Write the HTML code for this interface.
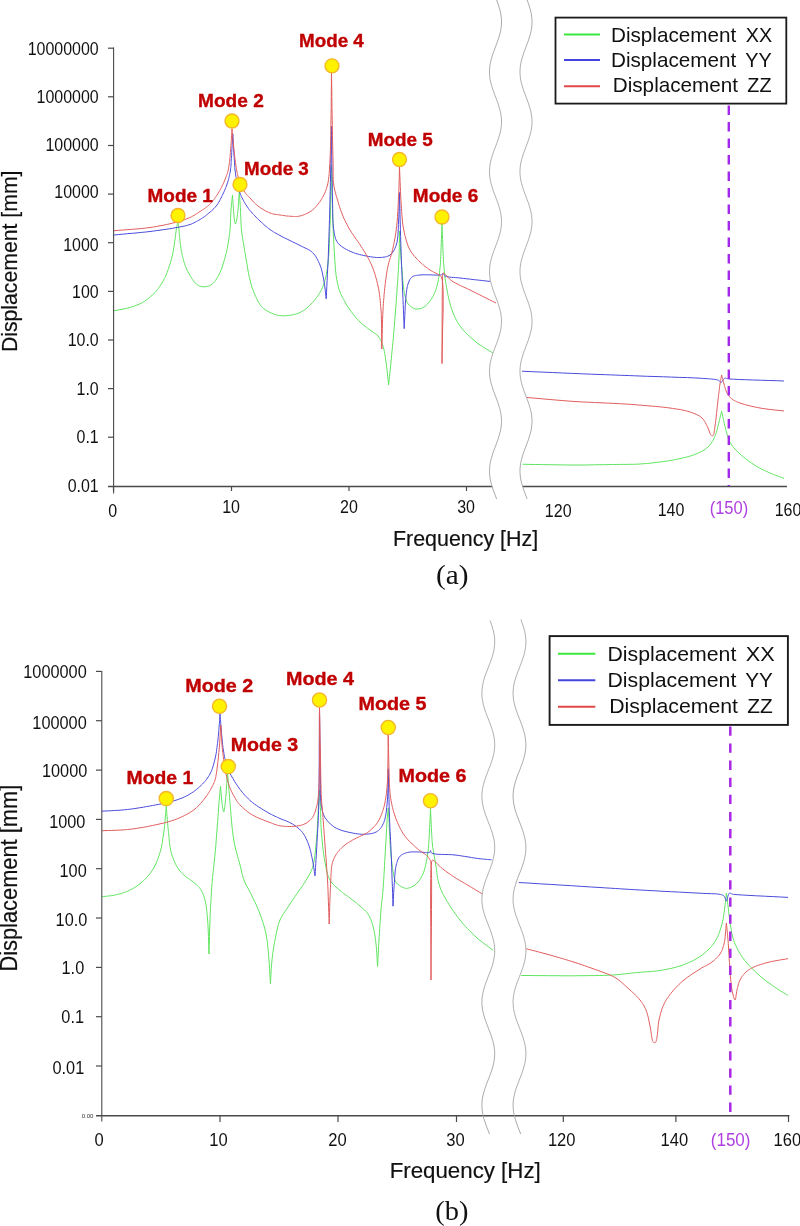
<!DOCTYPE html>
<html><head><meta charset="utf-8"><title>FRF</title>
<style>html,body{margin:0;padding:0;background:#fff}body{width:800px;height:1226px;overflow:hidden;font-family:"Liberation Sans",sans-serif}svg{display:block;filter:blur(0.4px)}</style></head>
<body>
<svg width="800" height="1226" viewBox="0 0 800 1226">
<rect width="800" height="1226" fill="#fff"/>
<g opacity="0.999">
<path d="M114.0 310.7L115.0 310.5L116.0 310.4L117.0 310.2L118.0 310.0L119.0 309.9L120.0 309.7L121.0 309.5L122.0 309.3L123.0 309.1L124.0 308.9L124.9 308.7L125.9 308.5L126.9 308.3L127.9 308.1L128.9 307.8L130.0 307.5L131.4 307.0L133.0 306.6L134.5 306.0L136.2 305.4L137.8 304.8L139.4 304.1L141.0 303.3L142.5 302.5L144.2 301.5L145.9 300.3L147.6 299.1L149.2 297.7L150.8 296.4L152.4 295.0L153.8 293.7L155.0 292.5L155.8 291.7L156.5 290.9L157.1 290.1L157.7 289.3L158.3 288.5L158.9 287.7L159.4 286.9L160.0 286.0L160.7 285.0L161.3 284.0L162.0 283.0L162.6 281.9L163.2 280.8L163.8 279.7L164.4 278.6L165.0 277.5L165.6 276.3L166.1 275.0L166.6 273.7L167.1 272.4L167.6 271.1L168.1 269.7L168.5 268.4L169.0 267.0L169.5 265.5L170.0 264.1L170.4 262.6L170.9 261.1L171.3 259.6L171.7 258.0L172.1 256.5L172.5 255.0L172.8 253.5L173.1 252.0L173.4 250.5L173.6 249.0L173.8 247.5L174.1 246.0L174.3 244.5L174.5 243.0L174.7 241.4L175.0 239.7L175.2 238.0L175.4 236.4L175.6 234.7L175.8 233.1L176.0 231.5L176.2 230.0L176.5 228.8L176.7 227.7L176.9 226.7L177.1 225.6L177.3 224.6L177.6 223.6L177.8 222.5L178.0 221.5L178.0 221.5L178.2 222.8L178.3 224.1L178.5 225.4L178.6 226.7L178.8 228.0L178.9 229.4L179.1 230.7L179.2 232.0L179.3 233.4L179.4 234.7L179.6 236.1L179.7 237.5L179.8 238.9L179.9 240.2L180.0 241.6L180.2 243.0L180.4 244.4L180.6 245.8L180.8 247.1L181.0 248.5L181.2 249.9L181.4 251.3L181.7 252.6L182.0 254.0L182.3 255.4L182.6 256.8L183.0 258.2L183.3 259.5L183.7 260.9L184.1 262.3L184.5 263.7L185.0 265.0L185.5 266.3L186.1 267.7L186.6 269.0L187.2 270.4L187.9 271.7L188.5 273.0L189.3 274.2L190.0 275.5L190.8 276.8L191.7 278.2L192.5 279.5L193.5 280.8L194.4 282.1L195.4 283.2L196.4 284.2L197.5 285.0L198.4 285.5L199.3 285.9L200.2 286.2L201.2 286.5L202.1 286.7L203.1 286.8L204.1 286.8L205.0 286.8L206.0 286.6L206.9 286.5L207.9 286.2L208.9 285.9L209.8 285.5L210.7 285.0L211.6 284.4L212.5 283.8L213.6 282.8L214.6 281.6L215.6 280.3L216.6 278.8L217.5 277.3L218.4 275.7L219.2 274.1L220.0 272.5L220.8 270.7L221.5 268.9L222.2 267.0L222.8 265.0L223.4 263.1L224.0 261.1L224.5 259.3L225.0 257.5L225.4 256.1L225.7 254.8L226.1 253.6L226.4 252.3L226.7 251.1L226.9 249.8L227.2 248.4L227.5 247.0L227.9 245.1L228.2 243.1L228.6 241.0L228.9 238.9L229.2 236.7L229.5 234.5L229.8 232.2L230.0 230.0L230.2 227.6L230.4 225.1L230.5 222.5L230.6 219.9L230.6 217.4L230.7 214.8L230.8 212.4L231.0 210.0L231.2 208.0L231.3 206.1L231.5 204.2L231.7 202.4L231.9 200.5L232.1 198.7L232.3 196.9L232.5 195.0L232.5 195.0L232.6 196.9L232.7 198.8L232.9 200.7L233.0 202.6L233.1 204.5L233.2 206.4L233.4 208.2L233.5 210.0L233.6 211.5L233.7 213.0L233.9 214.6L234.0 216.0L234.1 217.5L234.3 218.8L234.4 220.0L234.6 221.0L234.7 221.5L234.8 222.0L234.9 222.5L235.0 223.0L235.1 223.4L235.3 223.7L235.4 223.9L235.5 224.0L235.6 223.9L235.7 223.7L235.9 223.4L236.0 223.0L236.1 222.5L236.3 222.0L236.4 221.5L236.5 221.0L236.7 220.0L236.9 218.8L237.1 217.5L237.3 216.1L237.5 214.6L237.7 213.1L237.8 211.6L238.0 210.0L238.2 207.9L238.4 205.7L238.5 203.4L238.7 201.1L238.8 198.6L239.0 196.2L239.1 193.8L239.3 191.5L239.3 191.5L239.5 193.8L239.6 196.1L239.8 198.4L239.9 200.7L240.1 203.0L240.2 205.3L240.4 207.7L240.5 210.0L240.6 212.5L240.7 215.0L240.8 217.6L240.9 220.1L241.0 222.7L241.1 225.2L241.3 227.6L241.5 230.0L241.7 232.0L242.0 233.9L242.2 235.8L242.5 237.6L242.8 239.5L243.1 241.3L243.4 243.1L243.8 245.0L244.0 246.9L244.3 248.7L244.6 250.5L244.9 252.4L245.3 254.2L245.6 256.1L245.9 258.0L246.2 260.0L246.7 262.4L247.1 264.9L247.5 267.4L247.9 270.0L248.4 272.6L248.9 275.2L249.4 277.6L250.0 280.0L250.5 282.0L251.1 284.0L251.6 285.9L252.2 287.8L252.8 289.6L253.5 291.4L254.2 293.2L255.0 295.0L255.8 296.7L256.6 298.4L257.4 300.1L258.3 301.7L259.2 303.3L260.2 304.8L261.3 306.2L262.5 307.5L263.8 308.7L265.3 309.8L266.8 310.8L268.5 311.7L270.1 312.5L271.8 313.3L273.4 313.9L275.0 314.5L276.3 314.9L277.5 315.2L278.7 315.4L279.9 315.6L281.1 315.7L282.4 315.8L283.7 315.8L285.0 315.8L286.8 315.6L288.6 315.5L290.5 315.2L292.5 314.9L294.4 314.4L296.4 313.9L298.2 313.3L300.0 312.5L301.7 311.6L303.4 310.6L305.0 309.4L306.6 308.2L308.2 306.8L309.7 305.4L311.1 304.0L312.5 302.5L313.9 300.9L315.4 299.2L316.7 297.4L318.0 295.5L319.3 293.6L320.4 291.6L321.5 289.6L322.5 287.5L323.4 285.2L324.2 283.0L324.9 280.6L325.5 278.2L326.1 275.8L326.6 273.1L327.0 270.4L327.5 267.5L328.1 263.0L328.5 258.2L328.9 253.1L329.2 247.7L329.4 242.2L329.6 236.5L329.8 230.8L330.0 225.0L330.3 218.0L330.5 210.7L330.7 203.3L330.8 195.6L331.0 188.0L331.2 180.2L331.3 172.6L331.5 165.0L331.5 165.0L331.7 172.6L331.9 180.5L332.0 188.4L332.2 196.3L332.4 204.0L332.6 211.4L332.8 218.5L333.0 225.0L333.2 229.3L333.3 233.3L333.5 237.2L333.7 240.9L333.9 244.5L334.1 248.0L334.3 251.5L334.5 255.0L334.7 258.1L334.9 261.1L335.1 264.1L335.3 267.1L335.5 269.9L335.8 272.7L336.1 275.4L336.5 278.0L336.8 279.9L337.2 281.8L337.6 283.6L338.0 285.4L338.4 287.1L338.9 288.8L339.4 290.4L340.0 292.0L340.5 293.4L341.1 294.7L341.7 296.0L342.4 297.2L343.0 298.4L343.7 299.6L344.3 300.8L345.0 302.0L345.6 303.0L346.2 304.1L346.7 305.0L347.3 306.0L347.9 307.0L348.6 307.9L349.3 309.0L350.0 310.0L351.1 311.4L352.2 312.9L353.4 314.5L354.7 316.1L356.0 317.7L357.3 319.2L358.7 320.6L360.0 322.0L361.2 323.1L362.5 324.2L363.7 325.3L365.0 326.3L366.3 327.2L367.5 328.2L368.8 329.1L370.0 330.0L371.1 330.8L372.1 331.5L373.2 332.2L374.2 332.9L375.3 333.5L376.2 334.3L377.2 335.1L378.0 336.0L378.8 337.0L379.6 338.2L380.2 339.3L380.9 340.6L381.4 341.9L382.0 343.2L382.5 344.6L383.0 346.0L383.5 347.8L384.0 349.6L384.4 351.6L384.8 353.5L385.1 355.6L385.4 357.7L385.7 359.8L386.0 362.0L386.4 364.7L386.7 367.5L387.1 370.3L387.4 373.2L387.7 376.2L388.0 379.2L388.3 382.1L388.6 385.0L388.6 385.0L388.9 382.2L389.2 379.3L389.5 376.5L389.8 373.7L390.1 370.9L390.4 368.0L390.7 365.1L391.0 362.0L391.4 358.3L391.7 354.5L392.1 350.5L392.5 346.6L392.9 342.5L393.3 338.4L393.6 334.2L394.0 330.0L394.4 325.2L394.8 320.2L395.2 315.1L395.6 310.0L396.0 304.9L396.3 299.8L396.7 294.8L397.0 290.0L397.3 285.8L397.6 281.7L397.9 277.6L398.1 273.6L398.4 269.6L398.6 265.7L398.8 261.8L399.0 258.0L399.1 254.5L399.2 251.1L399.3 247.7L399.3 244.4L399.4 241.0L399.4 237.7L399.4 234.4L399.5 231.0L399.5 231.0L399.6 233.4L399.7 235.7L399.9 238.1L400.0 240.5L400.1 242.8L400.2 245.2L400.4 247.6L400.5 250.0L400.7 252.5L400.8 254.9L401.0 257.4L401.2 259.8L401.3 262.3L401.5 264.8L401.8 267.4L402.0 270.0L402.3 273.2L402.6 276.6L402.8 280.1L403.1 283.7L403.5 287.1L403.9 290.4L404.4 293.4L405.0 296.0L405.4 297.4L405.8 298.7L406.2 300.0L406.7 301.1L407.1 302.2L407.7 303.2L408.3 304.1L409.0 305.0L409.7 305.7L410.5 306.4L411.3 307.0L412.2 307.6L413.2 308.1L414.1 308.5L415.1 308.8L416.0 309.0L417.0 309.1L418.0 309.0L419.0 308.9L420.0 308.7L421.1 308.4L422.1 308.0L423.1 307.5L424.0 307.0L425.1 306.2L426.2 305.3L427.3 304.3L428.3 303.1L429.3 301.9L430.3 300.6L431.2 299.3L432.0 298.0L432.8 296.6L433.5 295.3L434.2 293.8L434.9 292.4L435.4 290.8L436.0 289.3L436.5 287.7L437.0 286.0L437.5 284.0L438.0 281.8L438.4 279.7L438.8 277.4L439.1 275.1L439.5 272.8L439.7 270.4L440.0 268.0L440.3 265.3L440.5 262.4L440.6 259.5L440.8 256.6L440.9 253.7L441.0 250.7L441.1 247.8L441.2 245.0L441.3 242.3L441.4 239.7L441.5 237.1L441.6 234.4L441.7 231.8L441.8 229.2L441.9 226.6L442.0 224.0L442.0 224.0L442.1 226.6L442.2 229.2L442.3 231.8L442.4 234.4L442.5 237.1L442.6 239.7L442.7 242.3L442.8 245.0L442.9 247.8L443.0 250.7L443.1 253.6L443.3 256.5L443.4 259.4L443.6 262.3L443.8 265.1L444.0 268.0L444.3 270.8L444.6 273.6L444.9 276.3L445.2 279.1L445.6 281.9L446.1 284.6L446.5 287.3L447.0 290.0L447.5 292.6L448.0 295.2L448.6 297.7L449.1 300.3L449.8 302.8L450.4 305.2L451.2 307.6L452.0 310.0L452.8 312.1L453.6 314.2L454.5 316.3L455.4 318.3L456.4 320.2L457.5 322.2L458.7 324.1L460.0 326.0L461.6 328.1L463.4 330.3L465.4 332.4L467.4 334.4L469.5 336.4L471.7 338.4L473.9 340.2L476.0 342.0L478.0 343.6L480.1 345.0L482.2 346.4L484.4 347.8L486.5 349.1L488.7 350.3L490.9 351.7L493.0 353.0" fill="none" stroke="#5ee45e" stroke-width="1.0" stroke-linejoin="round" stroke-linecap="butt"/>
<path d="M522.5 464.2L529.1 464.4L535.8 464.5L542.6 464.6L549.3 464.7L556.0 464.8L562.5 464.9L568.9 465.0L575.0 465.0L580.0 465.0L585.0 465.0L589.8 464.9L594.5 464.8L599.1 464.7L603.7 464.7L608.1 464.6L612.5 464.5L616.2 464.5L619.8 464.4L623.3 464.4L626.8 464.4L630.2 464.3L633.5 464.3L636.8 464.2L640.0 464.0L642.7 463.8L645.2 463.6L647.7 463.4L650.2 463.2L652.6 462.9L655.1 462.6L657.5 462.3L660.0 462.0L662.5 461.7L665.1 461.3L667.6 460.9L670.2 460.5L672.7 460.1L675.2 459.6L677.6 459.1L680.0 458.6L682.1 458.1L684.2 457.6L686.3 457.1L688.3 456.6L690.3 456.0L692.3 455.4L694.2 454.7L696.0 454.0L697.7 453.3L699.3 452.5L700.9 451.8L702.5 450.9L704.0 450.1L705.4 449.1L706.7 448.1L708.0 447.0L709.1 445.8L710.1 444.6L711.1 443.3L712.0 441.9L712.8 440.5L713.6 439.0L714.3 437.5L715.0 436.0L715.7 434.4L716.3 432.6L716.8 430.9L717.3 429.1L717.7 427.2L718.2 425.4L718.6 423.7L719.0 422.0L719.4 420.6L719.7 419.2L720.0 417.8L720.4 416.4L720.7 415.1L721.0 413.7L721.3 412.4L721.6 411.0L721.6 411.0L721.9 412.4L722.2 413.7L722.5 415.1L722.8 416.5L723.1 417.8L723.4 419.2L723.7 420.6L724.0 422.0L724.3 423.5L724.7 425.0L725.0 426.5L725.4 428.1L725.8 429.6L726.1 431.1L726.6 432.6L727.0 434.0L727.4 435.3L727.8 436.6L728.2 437.9L728.7 439.1L729.2 440.4L729.7 441.6L730.3 442.8L731.0 444.0L731.9 445.3L732.8 446.6L733.9 447.8L735.0 449.1L736.1 450.3L737.4 451.5L738.7 452.8L740.0 454.0L741.7 455.5L743.6 457.1L745.6 458.7L747.7 460.3L749.8 461.8L751.9 463.3L754.0 464.7L756.0 466.0L757.8 467.0L759.5 468.0L761.2 468.9L763.0 469.8L764.7 470.6L766.5 471.4L768.2 472.2L770.0 473.0L771.7 473.7L773.5 474.5L775.2 475.1L777.0 475.8L778.7 476.4L780.5 477.1L782.2 477.7L784.0 478.4" fill="none" stroke="#5ee45e" stroke-width="1.0" stroke-linejoin="round" stroke-linecap="butt"/>
<path d="M114.0 235.0L118.5 234.6L123.2 234.1L127.8 233.7L132.4 233.3L137.0 232.9L141.5 232.4L145.8 232.0L150.0 231.5L153.4 231.1L156.7 230.6L160.0 230.2L163.2 229.7L166.3 229.3L169.3 228.8L172.2 228.3L175.0 227.8L177.1 227.4L179.1 227.1L181.1 226.7L183.0 226.3L184.8 226.0L186.6 225.5L188.3 225.0L190.0 224.5L191.4 224.0L192.7 223.4L194.0 222.8L195.3 222.1L196.5 221.5L197.7 220.8L198.9 220.2L200.0 219.5L200.9 219.0L201.7 218.4L202.5 217.9L203.3 217.4L204.1 216.9L204.9 216.3L205.7 215.7L206.5 215.0L207.7 214.1L208.9 213.0L210.2 212.0L211.5 210.9L212.8 209.7L214.0 208.5L215.2 207.2L216.2 206.0L217.2 204.8L218.0 203.5L218.8 202.2L219.5 200.9L220.2 199.5L220.9 198.2L221.6 196.8L222.2 195.5L222.9 194.2L223.5 192.9L224.1 191.5L224.7 190.2L225.3 188.8L225.8 187.5L226.3 186.2L226.8 185.0L227.1 184.0L227.4 183.1L227.7 182.1L228.0 181.2L228.3 180.3L228.5 179.4L228.8 178.4L229.0 177.5L229.2 176.6L229.4 175.7L229.6 174.7L229.8 173.8L230.0 172.9L230.2 172.0L230.4 171.0L230.5 170.0L230.6 168.8L230.8 167.6L230.9 166.4L231.0 165.2L231.1 163.9L231.1 162.6L231.2 161.3L231.3 160.0L231.4 158.6L231.5 157.1L231.6 155.6L231.7 154.1L231.7 152.6L231.8 151.1L231.9 149.6L232.0 148.0L232.1 146.3L232.2 144.6L232.3 142.8L232.4 141.1L232.5 139.3L232.6 137.5L232.7 135.8L232.8 134.0L232.8 134.0L232.9 136.6L233.1 139.3L233.2 141.9L233.4 144.6L233.5 147.2L233.7 149.8L233.8 152.4L234.0 155.0L234.2 157.5L234.3 160.0L234.5 162.6L234.7 165.1L234.8 167.6L235.0 169.9L235.3 172.1L235.5 174.0L235.7 175.0L235.8 176.0L236.0 176.8L236.2 177.6L236.4 178.4L236.6 179.2L236.8 180.1L237.0 181.0L237.3 182.2L237.5 183.5L237.8 184.9L238.1 186.3L238.4 187.7L238.7 189.1L239.1 190.4L239.5 191.8L240.0 193.0L240.4 194.3L241.0 195.5L241.5 196.7L242.1 197.9L242.7 199.1L243.4 200.3L244.0 201.5L244.7 202.7L245.3 203.8L246.0 204.9L246.8 206.0L247.5 207.2L248.3 208.3L249.1 209.4L250.0 210.5L251.1 211.8L252.3 213.2L253.5 214.5L254.8 215.8L256.1 217.2L257.4 218.5L258.7 219.8L260.0 221.0L261.2 222.1L262.5 223.3L263.7 224.4L264.9 225.5L266.2 226.5L267.4 227.6L268.7 228.6L270.0 229.5L271.2 230.3L272.4 231.1L273.5 231.8L274.7 232.6L276.0 233.3L277.2 234.0L278.6 234.7L280.0 235.5L282.2 236.7L284.6 237.9L287.2 239.2L289.9 240.5L292.5 241.8L295.2 243.1L297.7 244.3L300.0 245.5L301.7 246.4L303.5 247.2L305.1 248.0L306.8 248.7L308.3 249.5L309.8 250.4L311.2 251.4L312.5 252.5L313.7 253.8L314.8 255.2L315.9 256.7L316.8 258.3L317.7 259.9L318.5 261.6L319.3 263.3L320.0 265.0L320.7 266.8L321.3 268.6L321.8 270.4L322.2 272.2L322.6 274.1L323.0 276.1L323.4 278.0L323.8 280.0L324.1 282.2L324.5 284.5L324.8 286.9L325.1 289.2L325.4 291.6L325.7 294.0L325.9 296.4L326.2 298.8L326.2 298.8L326.5 292.7L326.8 286.6L327.1 280.5L327.4 274.4L327.7 268.3L328.0 262.2L328.3 256.1L328.5 250.0L328.7 243.8L328.9 237.8L329.1 231.7L329.3 225.7L329.5 219.5L329.7 213.2L329.8 206.7L330.0 200.0L330.2 191.4L330.4 182.5L330.6 173.3L330.8 163.9L331.0 154.4L331.1 144.8L331.3 135.3L331.5 126.0L331.5 126.0L331.6 135.5L331.7 145.3L331.8 155.2L331.9 165.1L332.0 174.7L332.2 183.8L332.3 192.3L332.5 200.0L332.6 204.5L332.7 208.7L332.7 212.8L332.8 216.7L332.9 220.3L333.1 223.7L333.3 227.0L333.8 230.0L334.1 231.9L334.3 233.6L334.7 235.3L335.0 236.9L335.4 238.4L336.0 239.8L336.7 241.2L337.5 242.5L338.6 243.9L340.0 245.1L341.4 246.3L343.1 247.5L344.8 248.5L346.5 249.5L348.3 250.4L350.0 251.2L351.8 252.0L353.6 252.7L355.4 253.4L357.3 253.9L359.3 254.5L361.2 254.9L363.1 255.3L365.0 255.8L366.9 256.1L368.8 256.5L370.7 256.8L372.7 257.1L374.6 257.3L376.5 257.5L378.3 257.5L380.0 257.5L381.4 257.4L382.7 257.3L384.1 257.1L385.4 256.9L386.6 256.6L387.8 256.2L389.0 255.7L390.0 255.0L391.0 254.2L392.0 253.2L392.8 252.1L393.6 250.9L394.4 249.5L395.1 248.1L395.7 246.6L396.2 245.0L397.0 242.3L397.5 239.1L397.9 235.7L398.1 232.1L398.3 228.4L398.4 224.6L398.6 221.0L398.8 217.5L398.9 214.3L399.0 211.2L399.1 208.0L399.2 204.9L399.3 201.8L399.3 198.7L399.4 195.6L399.5 192.5L399.5 192.5L399.7 199.8L399.9 207.1L400.0 214.5L400.2 221.9L400.4 229.2L400.6 236.4L400.8 243.3L401.0 250.0L401.2 255.4L401.4 260.5L401.6 265.6L401.8 270.5L402.0 275.4L402.2 280.2L402.4 285.1L402.6 290.0L402.8 294.9L403.0 299.7L403.2 304.5L403.4 309.3L403.6 314.2L403.8 319.0L404.0 323.8L404.2 328.6L404.2 328.6L404.4 324.4L404.6 320.1L404.8 315.7L405.0 311.3L405.2 307.0L405.4 303.0L405.7 299.3L406.0 296.0L406.2 294.2L406.4 292.5L406.6 290.9L406.8 289.4L407.0 288.0L407.3 286.6L407.6 285.3L408.0 284.0L408.4 283.0L408.8 282.0L409.2 281.0L409.6 280.0L410.1 279.2L410.7 278.3L411.3 277.6L412.0 277.0L412.8 276.5L413.6 276.1L414.5 275.8L415.5 275.6L416.5 275.4L417.6 275.3L418.8 275.1L420.0 275.0L422.2 274.8L424.8 274.8L427.7 274.8L430.7 274.9L433.6 275.0L436.3 275.1L438.4 275.1L440.0 275.0L440.4 275.0L440.7 274.9L440.9 274.9L441.2 274.8L441.4 274.8L441.6 274.7L441.8 274.6L442.0 274.5L442.2 274.4L442.3 274.2L442.4 274.1L442.5 273.9L442.6 273.7L442.7 273.6L442.9 273.5L443.0 273.5L443.2 273.6L443.4 273.8L443.6 274.1L443.8 274.5L444.0 274.9L444.3 275.3L444.6 275.7L445.0 276.0L446.1 276.5L447.6 276.8L449.3 277.1L451.3 277.3L453.4 277.4L455.5 277.6L457.8 277.8L460.0 278.0L463.3 278.4L466.8 278.8L470.5 279.2L474.4 279.7L478.3 280.1L482.3 280.5L486.2 281.0L490.0 281.4" fill="none" stroke="#4a4adc" stroke-width="1.0" stroke-linejoin="round" stroke-linecap="butt"/>
<path d="M522.0 371.2L531.9 371.7L542.1 372.1L552.4 372.5L562.6 373.0L572.6 373.4L582.3 373.8L591.5 374.2L600.0 374.5L605.6 374.7L610.7 374.9L615.6 375.1L620.3 375.3L625.0 375.4L629.7 375.6L634.7 375.8L640.0 376.0L647.2 376.3L655.0 376.5L663.3 376.8L671.6 377.1L679.8 377.4L687.4 377.6L694.3 377.9L700.0 378.2L702.6 378.4L705.0 378.6L707.3 378.7L709.4 378.9L711.4 379.0L713.1 379.2L714.7 379.4L716.0 379.6L716.5 379.7L716.9 379.8L717.3 379.9L717.7 380.0L718.1 380.1L718.4 380.2L718.7 380.3L719.0 380.5L719.3 380.7L719.6 381.0L719.8 381.4L720.1 381.7L720.3 382.1L720.5 382.4L720.8 382.5L721.0 382.6L721.3 382.5L721.5 382.3L721.8 382.0L722.0 381.6L722.2 381.2L722.5 380.7L722.7 380.3L723.0 380.0L723.2 379.7L723.5 379.4L723.7 379.1L724.0 378.8L724.2 378.5L724.5 378.3L724.7 378.1L725.0 378.0L725.2 378.0L725.5 378.0L725.7 378.1L726.0 378.2L726.2 378.3L726.5 378.4L726.7 378.5L727.0 378.6L727.3 378.7L727.6 378.7L727.9 378.8L728.2 378.8L728.6 378.9L729.0 378.9L729.4 379.0L730.0 379.0L733.6 379.2L738.8 379.5L745.4 379.7L752.8 380.0L760.8 380.2L768.9 380.5L776.8 380.7L784.0 381.0" fill="none" stroke="#4a4adc" stroke-width="1.0" stroke-linejoin="round" stroke-linecap="butt"/>
<path d="M114.0 230.7L118.5 230.3L123.2 230.0L127.8 229.6L132.4 229.3L137.0 228.9L141.5 228.5L145.8 228.0L150.0 227.5L153.4 227.0L156.7 226.4L160.0 225.8L163.2 225.2L166.3 224.6L169.3 223.9L172.2 223.2L175.0 222.5L177.1 221.9L179.1 221.4L181.1 220.8L183.0 220.2L184.8 219.6L186.6 218.9L188.3 218.2L190.0 217.5L191.4 216.8L192.7 216.1L194.0 215.4L195.2 214.6L196.4 213.9L197.6 213.1L198.8 212.3L200.0 211.5L201.1 210.8L202.3 210.0L203.4 209.3L204.5 208.6L205.6 207.8L206.7 207.0L207.7 206.1L208.8 205.2L209.8 204.2L210.8 203.2L211.8 202.1L212.7 200.9L213.7 199.8L214.6 198.6L215.4 197.4L216.2 196.2L217.0 195.1L217.7 194.0L218.4 192.9L219.1 191.8L219.7 190.6L220.3 189.5L220.9 188.4L221.5 187.2L222.0 186.2L222.5 185.2L223.0 184.2L223.5 183.2L224.0 182.1L224.4 181.1L224.8 180.1L225.2 179.0L225.7 177.9L226.1 176.8L226.5 175.7L226.9 174.6L227.3 173.4L227.6 172.3L228.0 171.2L228.2 170.0L228.5 168.8L228.7 167.6L228.9 166.3L229.1 165.0L229.3 163.8L229.4 162.5L229.6 161.3L229.7 160.0L229.8 158.8L230.0 157.5L230.1 156.3L230.2 155.1L230.3 153.8L230.4 152.6L230.5 151.3L230.6 150.0L230.7 148.4L230.8 146.8L231.0 145.1L231.1 143.4L231.2 141.7L231.3 140.1L231.4 138.5L231.5 137.0L231.6 135.9L231.6 134.9L231.7 133.9L231.8 132.9L231.8 131.9L231.9 131.0L231.9 130.0L232.0 129.0L232.0 129.0L232.2 131.6L232.5 134.3L232.7 137.0L233.0 139.7L233.2 142.3L233.5 145.0L233.7 147.5L234.0 150.0L234.2 152.1L234.5 154.2L234.7 156.3L234.9 158.4L235.2 160.4L235.5 162.3L235.7 164.2L236.0 166.0L236.2 167.4L236.4 168.6L236.6 169.9L236.8 171.0L237.1 172.2L237.3 173.4L237.6 174.7L238.0 176.0L238.5 177.8L239.2 179.7L239.9 181.7L240.6 183.7L241.4 185.7L242.3 187.6L243.1 189.4L244.0 191.0L244.7 192.1L245.4 193.0L246.1 193.9L246.8 194.7L247.6 195.5L248.4 196.3L249.2 197.1L250.0 198.0L250.9 199.0L251.8 200.0L252.8 201.1L253.7 202.1L254.7 203.1L255.8 204.1L256.9 205.1L258.0 206.0L259.3 207.0L260.8 208.0L262.3 209.0L263.8 209.9L265.4 210.8L266.9 211.6L268.5 212.4L270.0 213.0L271.3 213.4L272.5 213.8L273.7 214.1L275.0 214.3L276.2 214.5L277.5 214.6L278.7 214.8L280.0 215.0L281.4 215.2L282.7 215.4L284.1 215.6L285.5 215.8L286.9 216.0L288.3 216.1L289.7 216.2L291.0 216.3L292.2 216.4L293.3 216.4L294.4 216.5L295.5 216.5L296.6 216.5L297.7 216.4L298.8 216.2L300.0 216.0L301.5 215.6L303.1 215.1L304.7 214.4L306.4 213.7L308.0 212.9L309.6 212.0L311.1 211.1L312.5 210.0L314.0 208.7L315.4 207.3L316.7 205.8L318.0 204.2L319.3 202.5L320.4 200.9L321.5 199.2L322.5 197.5L323.3 196.0L324.1 194.6L324.8 193.1L325.4 191.6L326.0 190.1L326.5 188.5L327.0 186.8L327.5 185.0L328.1 182.4L328.5 179.5L328.9 176.6L329.2 173.4L329.4 170.2L329.6 166.9L329.8 163.5L330.0 160.0L330.2 155.5L330.4 150.7L330.6 145.8L330.7 140.8L330.8 135.7L330.8 130.5L330.9 125.2L331.0 120.0L331.1 114.3L331.2 108.4L331.2 102.5L331.3 96.5L331.3 90.5L331.4 84.5L331.4 78.5L331.5 72.5L331.5 72.5L331.6 78.5L331.7 84.5L331.8 90.5L331.8 96.5L331.9 102.5L332.0 108.4L332.1 114.3L332.2 120.0L332.3 125.2L332.4 130.5L332.5 135.7L332.6 140.8L332.7 145.8L332.8 150.7L332.9 155.5L333.0 160.0L333.1 163.5L333.1 166.8L333.1 170.1L333.1 173.3L333.1 176.4L333.2 179.4L333.4 182.2L333.8 185.0L334.1 187.1L334.5 189.0L334.9 190.9L335.4 192.8L335.9 194.6L336.4 196.4L337.0 198.2L337.5 200.0L338.1 201.9L338.6 203.8L339.2 205.7L339.8 207.5L340.4 209.4L341.1 211.3L341.8 213.1L342.5 215.0L343.3 216.9L344.1 218.8L345.0 220.6L345.9 222.5L346.9 224.3L347.9 226.2L348.9 228.1L350.0 230.0L351.4 232.3L352.9 234.5L354.5 236.8L356.1 239.2L357.8 241.5L359.5 243.8L361.0 246.2L362.5 248.5L363.8 250.7L365.1 252.8L366.4 255.0L367.6 257.1L368.8 259.3L369.9 261.5L371.0 263.7L372.0 266.0L373.0 268.4L373.8 270.8L374.7 273.2L375.4 275.7L376.1 278.2L376.8 280.8L377.4 283.4L378.0 286.0L378.6 288.8L379.1 291.7L379.5 294.6L379.9 297.5L380.2 300.5L380.5 303.5L380.7 306.7L381.0 310.0L381.3 314.4L381.4 319.1L381.5 323.9L381.6 328.9L381.6 334.0L381.7 339.0L381.7 344.1L381.8 349.0L381.8 349.0L381.9 344.1L382.1 339.0L382.2 334.0L382.3 328.9L382.4 323.9L382.6 319.1L382.8 314.4L383.0 310.0L383.2 306.7L383.4 303.5L383.6 300.5L383.9 297.5L384.1 294.6L384.4 291.7L384.7 288.9L385.0 286.0L385.3 283.4L385.6 280.8L386.0 278.2L386.3 275.6L386.7 273.1L387.1 270.7L387.5 268.3L388.0 266.0L388.4 264.1L388.9 262.4L389.4 260.7L389.9 259.0L390.5 257.4L391.0 255.7L391.5 253.9L392.0 252.0L392.6 249.5L393.2 247.0L393.7 244.4L394.3 241.7L394.8 238.9L395.3 236.0L395.8 233.1L396.2 230.0L396.7 225.7L397.2 221.2L397.5 216.4L397.8 211.4L398.1 206.5L398.3 201.6L398.5 196.9L398.8 192.5L398.9 189.1L399.0 185.8L399.1 182.6L399.2 179.4L399.3 176.3L399.3 173.3L399.4 170.2L399.5 167.0L399.5 167.0L399.7 171.8L399.9 176.7L400.1 181.6L400.3 186.5L400.5 191.3L400.7 196.1L401.0 200.6L401.2 205.0L401.5 208.4L401.7 211.7L401.9 214.9L402.2 218.0L402.4 221.1L402.8 224.1L403.2 227.1L403.8 230.0L404.3 232.7L404.9 235.3L405.6 238.0L406.3 240.6L407.1 243.1L407.9 245.5L408.9 247.8L410.0 250.0L411.0 251.8L412.2 253.4L413.4 255.0L414.7 256.5L416.0 258.0L417.3 259.3L418.7 260.7L420.0 262.0L421.2 263.1L422.4 264.3L423.7 265.3L424.9 266.3L426.2 267.3L427.5 268.2L428.7 269.1L430.0 270.0L431.2 270.7L432.4 271.4L433.6 272.1L434.9 272.7L436.0 273.3L437.2 273.9L438.2 274.5L439.0 275.0L439.4 275.2L439.8 275.4L440.1 275.6L440.4 275.7L440.7 275.9L441.0 276.2L441.2 276.5L441.5 277.0L442.6 281.7L443.1 289.7L443.2 300.1L443.1 312.3L442.7 325.5L442.4 339.0L442.1 351.9L442.0 363.6L442.0 363.6L442.1 352.0L442.1 339.3L442.1 326.2L442.2 313.3L442.2 301.3L442.3 290.8L442.4 282.5L442.6 277.0L442.6 276.2L442.6 275.5L442.6 274.8L442.6 274.3L442.6 273.8L442.7 273.4L442.8 273.2L443.0 273.0L443.6 273.1L444.4 273.7L445.4 274.7L446.6 275.9L447.8 277.2L449.2 278.6L450.6 279.9L452.0 281.0L453.9 282.2L455.9 283.3L458.1 284.4L460.3 285.5L462.7 286.6L465.1 287.7L467.5 288.8L470.0 290.0L473.0 291.5L476.2 293.1L479.4 294.7L482.7 296.4L486.0 298.0L489.4 299.7L492.7 301.4L496.0 303.0" fill="none" stroke="#e05c5c" stroke-width="1.0" stroke-linejoin="round" stroke-linecap="butt"/>
<path d="M527.0 397.5L533.0 398.0L539.0 398.5L545.0 399.1L550.9 399.6L556.9 400.1L562.9 400.6L569.0 401.1L575.0 401.5L581.3 401.9L587.8 402.2L594.4 402.5L601.0 402.8L607.5 403.1L613.7 403.4L619.6 403.7L625.0 404.0L628.6 404.2L631.9 404.5L635.1 404.7L638.2 405.0L641.2 405.2L644.1 405.5L647.1 405.7L650.0 406.0L652.6 406.2L655.2 406.4L657.7 406.6L660.1 406.9L662.6 407.1L665.1 407.4L667.5 407.7L670.0 408.0L672.5 408.4L675.1 408.8L677.8 409.2L680.4 409.6L682.9 410.1L685.4 410.7L687.8 411.3L690.0 412.0L691.7 412.6L693.4 413.2L695.0 413.9L696.6 414.5L698.1 415.3L699.5 416.1L700.8 417.0L702.0 418.0L703.0 419.1L703.9 420.2L704.7 421.5L705.5 422.8L706.2 424.2L706.8 425.5L707.4 426.8L708.0 428.0L708.4 429.0L708.8 430.0L709.2 431.0L709.5 432.0L709.9 433.0L710.2 433.8L710.6 434.5L711.0 435.0L711.2 435.2L711.5 435.4L711.8 435.5L712.0 435.6L712.3 435.7L712.5 435.7L712.8 435.7L713.0 435.6L713.4 435.1L713.7 434.4L714.0 433.3L714.2 432.0L714.4 430.6L714.6 429.1L714.8 427.5L715.0 426.0L715.4 423.3L715.8 420.3L716.2 416.9L716.6 413.4L716.9 409.9L717.3 406.4L717.7 403.0L718.0 400.0L718.3 397.8L718.5 395.6L718.8 393.5L719.0 391.5L719.3 389.5L719.5 387.6L719.7 385.8L720.0 384.0L720.2 382.7L720.4 381.6L720.6 380.4L720.8 379.3L721.0 378.3L721.2 377.2L721.4 376.1L721.6 375.0L721.6 375.0L721.9 376.1L722.2 377.3L722.5 378.4L722.8 379.5L723.1 380.6L723.4 381.8L723.7 382.9L724.0 384.0L724.3 385.1L724.6 386.3L725.0 387.5L725.3 388.7L725.7 389.8L726.1 390.9L726.5 392.0L727.0 393.0L727.5 393.9L728.0 394.7L728.6 395.5L729.2 396.3L729.9 397.0L730.5 397.7L731.2 398.4L732.0 399.0L732.8 399.6L733.7 400.2L734.6 400.7L735.6 401.2L736.6 401.7L737.6 402.1L738.8 402.5L740.0 403.0L742.0 403.7L744.3 404.4L746.7 405.1L749.3 405.7L751.9 406.3L754.6 406.9L757.3 407.5L760.0 408.0L762.9 408.5L765.8 408.9L768.8 409.3L771.8 409.7L774.9 410.0L777.9 410.3L781.0 410.6L784.0 411.0" fill="none" stroke="#e05c5c" stroke-width="1.0" stroke-linejoin="round" stroke-linecap="butt"/>
<line x1="113.6" y1="47.6" x2="113.6" y2="493.5" stroke="#4a4a4a" stroke-width="1.1"/>
<line x1="108" y1="486.5" x2="787" y2="486.5" stroke="#4a4a4a" stroke-width="1.6"/>
<line x1="108" y1="48.2" x2="114" y2="48.2" stroke="#4a4a4a" stroke-width="1.2"/>
<text transform="translate(27.68,55.10) scale(0.9070,1)" font-size="17.6" fill="#111" font-weight="normal" font-family="Liberation Sans, sans-serif">10000000</text>
<line x1="108" y1="96.8" x2="114" y2="96.8" stroke="#4a4a4a" stroke-width="1.2"/>
<text transform="translate(36.55,103.43) scale(0.9070,1)" font-size="17.6" fill="#111" font-weight="normal" font-family="Liberation Sans, sans-serif">1000000</text>
<line x1="108" y1="145.5" x2="114" y2="145.5" stroke="#4a4a4a" stroke-width="1.2"/>
<text transform="translate(45.43,151.06) scale(0.9070,1)" font-size="17.6" fill="#111" font-weight="normal" font-family="Liberation Sans, sans-serif">100000</text>
<line x1="108" y1="194.1" x2="114" y2="194.1" stroke="#4a4a4a" stroke-width="1.2"/>
<text transform="translate(54.31,198.29) scale(0.9070,1)" font-size="17.6" fill="#111" font-weight="normal" font-family="Liberation Sans, sans-serif">10000</text>
<line x1="108" y1="242.7" x2="114" y2="242.7" stroke="#4a4a4a" stroke-width="1.2"/>
<text transform="translate(63.19,251.22) scale(0.9070,1)" font-size="17.6" fill="#111" font-weight="normal" font-family="Liberation Sans, sans-serif">1000</text>
<line x1="108" y1="291.4" x2="114" y2="291.4" stroke="#4a4a4a" stroke-width="1.2"/>
<text transform="translate(72.07,298.25) scale(0.9070,1)" font-size="17.6" fill="#111" font-weight="normal" font-family="Liberation Sans, sans-serif">100</text>
<line x1="108" y1="340.0" x2="114" y2="340.0" stroke="#4a4a4a" stroke-width="1.2"/>
<text transform="translate(67.63,346.18) scale(0.9070,1)" font-size="17.6" fill="#111" font-weight="normal" font-family="Liberation Sans, sans-serif">10.0</text>
<line x1="108" y1="388.6" x2="114" y2="388.6" stroke="#4a4a4a" stroke-width="1.2"/>
<text transform="translate(76.51,394.51) scale(0.9070,1)" font-size="17.6" fill="#111" font-weight="normal" font-family="Liberation Sans, sans-serif">1.0</text>
<line x1="108" y1="437.2" x2="114" y2="437.2" stroke="#4a4a4a" stroke-width="1.2"/>
<text transform="translate(76.51,443.34) scale(0.9070,1)" font-size="17.6" fill="#111" font-weight="normal" font-family="Liberation Sans, sans-serif">0.1</text>
<text transform="translate(67.63,491.77) scale(0.9070,1)" font-size="17.6" fill="#111" font-weight="normal" font-family="Liberation Sans, sans-serif">0.01</text>
<line x1="113.5" y1="486.5" x2="113.5" y2="491" stroke="#4a4a4a" stroke-width="1.2"/>
<line x1="231.5" y1="486.5" x2="231.5" y2="491" stroke="#4a4a4a" stroke-width="1.2"/>
<line x1="349" y1="486.5" x2="349" y2="491" stroke="#4a4a4a" stroke-width="1.2"/>
<line x1="466.5" y1="486.5" x2="466.5" y2="491" stroke="#4a4a4a" stroke-width="1.2"/>
<text transform="translate(108.35,516.60) scale(0.9100,1)" font-size="17.6" fill="#111" font-weight="normal" font-family="Liberation Sans, sans-serif">0</text>
<text transform="translate(222.22,513.10) scale(0.9100,1)" font-size="17.6" fill="#111" font-weight="normal" font-family="Liberation Sans, sans-serif">10</text>
<text transform="translate(339.98,513.10) scale(0.9100,1)" font-size="17.6" fill="#111" font-weight="normal" font-family="Liberation Sans, sans-serif">20</text>
<text transform="translate(457.14,513.10) scale(0.9100,1)" font-size="17.6" fill="#111" font-weight="normal" font-family="Liberation Sans, sans-serif">30</text>
<text transform="translate(544.87,516.60) scale(0.9100,1)" font-size="17.6" fill="#111" font-weight="normal" font-family="Liberation Sans, sans-serif">120</text>
<text transform="translate(657.67,516.20) scale(0.9100,1)" font-size="17.6" fill="#111" font-weight="normal" font-family="Liberation Sans, sans-serif">140</text>
<text transform="translate(774.68,516.20) scale(0.9100,1)" font-size="17.6" fill="#111" font-weight="normal" font-family="Liberation Sans, sans-serif">160</text>
<text transform="translate(709.63,513.70) scale(0.9400,1)" font-size="17.6" fill="#b040e0" font-weight="normal" font-family="Liberation Sans, sans-serif">(150)</text>
<path d="M496.6 0.0L497.4 2.0L498.1 4.0L498.7 6.0L499.3 8.0L499.9 10.0L500.4 12.0L500.8 14.0L501.1 16.0L501.3 18.0L501.5 20.0L501.5 22.0L501.5 24.0L501.3 25.9L501.1 27.9L500.8 29.9L500.4 31.9L499.9 33.9L499.3 35.9L498.7 37.9L498.1 39.9L497.4 41.9L496.6 43.9L495.9 45.9L495.1 47.9L494.4 49.9L493.6 51.9L492.9 53.9L492.3 55.9L491.7 57.9L491.1 59.9L490.6 61.9L490.2 63.9L489.9 65.9L489.7 67.9L489.5 69.9L489.5 71.9L489.5 73.9L489.7 75.8L489.9 77.8L490.2 79.8L490.6 81.8L491.1 83.8L491.7 85.8L492.3 87.8L492.9 89.8L493.6 91.8L494.4 93.8L495.1 95.8L495.9 97.8L496.6 99.8L497.4 101.8L498.1 103.8L498.7 105.8L499.3 107.8L499.9 109.8L500.4 111.8L500.8 113.8L501.1 115.8L501.3 117.8L501.5 119.8L501.5 121.8L501.5 123.8L501.3 125.7L501.1 127.7L500.8 129.7L500.4 131.7L499.9 133.7L499.3 135.7L498.7 137.7L498.1 139.7L497.4 141.7L496.6 143.7L495.9 145.7L495.1 147.7L494.4 149.7L493.6 151.7L492.9 153.7L492.3 155.7L491.7 157.7L491.1 159.7L490.6 161.7L490.2 163.7L489.9 165.7L489.7 167.7L489.5 169.7L489.5 171.7L489.5 173.7L489.7 175.6L489.9 177.6L490.2 179.6L490.6 181.6L491.1 183.6L491.7 185.6L492.3 187.6L492.9 189.6L493.6 191.6L494.4 193.6L495.1 195.6L495.9 197.6L496.6 199.6L497.4 201.6L498.1 203.6L498.7 205.6L499.3 207.6L499.9 209.6L500.4 211.6L500.8 213.6L501.1 215.6L501.3 217.6L501.5 219.6L501.5 221.6L501.5 223.6L501.3 225.5L501.1 227.5L500.8 229.5L500.4 231.5L499.9 233.5L499.3 235.5L498.7 237.5L498.1 239.5L497.4 241.5L496.6 243.5L495.9 245.5L495.1 247.5L494.4 249.5L493.6 251.5L492.9 253.5L492.3 255.5L491.7 257.5L491.1 259.5L490.6 261.5L490.2 263.5L489.9 265.5L489.7 267.5L489.5 269.5L489.5 271.5L489.5 273.5L489.7 275.4L489.9 277.4L490.2 279.4L490.6 281.4L491.1 283.4L491.7 285.4L492.3 287.4L492.9 289.4L493.6 291.4L494.4 293.4L495.1 295.4L495.9 297.4L496.6 299.4L497.4 301.4L498.1 303.4L498.7 305.4L499.3 307.4L499.9 309.4L500.4 311.4L500.8 313.4L501.1 315.4L501.3 317.4L501.5 319.4L501.5 321.4L501.5 323.4L501.3 325.3L501.1 327.3L500.8 329.3L500.4 331.3L499.9 333.3L499.3 335.3L498.7 337.3L498.1 339.3L497.4 341.3L496.6 343.3L495.9 345.3L495.1 347.3L494.4 349.3L493.6 351.3L492.9 353.3L492.3 355.3L491.7 357.3L491.1 359.3L490.6 361.3L490.2 363.3L489.9 365.3L489.7 367.3L489.5 369.3L489.5 371.3L489.5 373.3L489.7 375.2L489.9 377.2L490.2 379.2L490.6 381.2L491.1 383.2L491.7 385.2L492.3 387.2L492.9 389.2L493.6 391.2L494.4 393.2L495.1 395.2L495.9 397.2L496.6 399.2L497.4 401.2L498.1 403.2L498.7 405.2L499.3 407.2L499.9 409.2L500.4 411.2L500.8 413.2L501.1 415.2L501.3 417.2L501.5 419.2L501.5 421.2L501.5 423.2L501.3 425.1L501.1 427.1L500.8 429.1L500.4 431.1L499.9 433.1L499.3 435.1L498.7 437.1L498.1 439.1L497.4 441.1L496.6 443.1L495.9 445.1L495.1 447.1L494.4 449.1L493.6 451.1L492.9 453.1L492.3 455.1L491.7 457.1L491.1 459.1L490.6 461.1L490.2 463.1L489.9 465.1L489.7 467.1L489.5 469.1L489.5 471.1L489.5 473.1L489.7 475.0L489.9 477.0L490.2 479.0L490.6 481.0L491.1 483.0L491.7 485.0L492.3 487.0L492.9 489.0L493.6 491.0L494.4 493.0L495.1 495.0L495.9 497.0L496.6 499.0L527.1 499.0L526.4 497.0L525.6 495.0L524.9 493.0L524.1 491.0L523.4 489.0L522.8 487.0L522.2 485.0L521.6 483.0L521.1 481.0L520.7 479.0L520.4 477.0L520.2 475.0L520.0 473.1L520.0 471.1L520.0 469.1L520.2 467.1L520.4 465.1L520.7 463.1L521.1 461.1L521.6 459.1L522.2 457.1L522.8 455.1L523.4 453.1L524.1 451.1L524.9 449.1L525.6 447.1L526.4 445.1L527.1 443.1L527.9 441.1L528.6 439.1L529.2 437.1L529.8 435.1L530.4 433.1L530.9 431.1L531.3 429.1L531.6 427.1L531.8 425.1L532.0 423.2L532.0 421.2L532.0 419.2L531.8 417.2L531.6 415.2L531.3 413.2L530.9 411.2L530.4 409.2L529.8 407.2L529.2 405.2L528.6 403.2L527.9 401.2L527.1 399.2L526.4 397.2L525.6 395.2L524.9 393.2L524.1 391.2L523.4 389.2L522.8 387.2L522.2 385.2L521.6 383.2L521.1 381.2L520.7 379.2L520.4 377.2L520.2 375.2L520.0 373.3L520.0 371.3L520.0 369.3L520.2 367.3L520.4 365.3L520.7 363.3L521.1 361.3L521.6 359.3L522.2 357.3L522.8 355.3L523.4 353.3L524.1 351.3L524.9 349.3L525.6 347.3L526.4 345.3L527.1 343.3L527.9 341.3L528.6 339.3L529.2 337.3L529.8 335.3L530.4 333.3L530.9 331.3L531.3 329.3L531.6 327.3L531.8 325.3L532.0 323.4L532.0 321.4L532.0 319.4L531.8 317.4L531.6 315.4L531.3 313.4L530.9 311.4L530.4 309.4L529.8 307.4L529.2 305.4L528.6 303.4L527.9 301.4L527.1 299.4L526.4 297.4L525.6 295.4L524.9 293.4L524.1 291.4L523.4 289.4L522.8 287.4L522.2 285.4L521.6 283.4L521.1 281.4L520.7 279.4L520.4 277.4L520.2 275.4L520.0 273.5L520.0 271.5L520.0 269.5L520.2 267.5L520.4 265.5L520.7 263.5L521.1 261.5L521.6 259.5L522.2 257.5L522.8 255.5L523.4 253.5L524.1 251.5L524.9 249.5L525.6 247.5L526.4 245.5L527.1 243.5L527.9 241.5L528.6 239.5L529.2 237.5L529.8 235.5L530.4 233.5L530.9 231.5L531.3 229.5L531.6 227.5L531.8 225.5L532.0 223.6L532.0 221.6L532.0 219.6L531.8 217.6L531.6 215.6L531.3 213.6L530.9 211.6L530.4 209.6L529.8 207.6L529.2 205.6L528.6 203.6L527.9 201.6L527.1 199.6L526.4 197.6L525.6 195.6L524.9 193.6L524.1 191.6L523.4 189.6L522.8 187.6L522.2 185.6L521.6 183.6L521.1 181.6L520.7 179.6L520.4 177.6L520.2 175.6L520.0 173.7L520.0 171.7L520.0 169.7L520.2 167.7L520.4 165.7L520.7 163.7L521.1 161.7L521.6 159.7L522.2 157.7L522.8 155.7L523.4 153.7L524.1 151.7L524.9 149.7L525.6 147.7L526.4 145.7L527.1 143.7L527.9 141.7L528.6 139.7L529.2 137.7L529.8 135.7L530.4 133.7L530.9 131.7L531.3 129.7L531.6 127.7L531.8 125.7L532.0 123.8L532.0 121.8L532.0 119.8L531.8 117.8L531.6 115.8L531.3 113.8L530.9 111.8L530.4 109.8L529.8 107.8L529.2 105.8L528.6 103.8L527.9 101.8L527.1 99.8L526.4 97.8L525.6 95.8L524.9 93.8L524.1 91.8L523.4 89.8L522.8 87.8L522.2 85.8L521.6 83.8L521.1 81.8L520.7 79.8L520.4 77.8L520.2 75.8L520.0 73.9L520.0 71.9L520.0 69.9L520.2 67.9L520.4 65.9L520.7 63.9L521.1 61.9L521.6 59.9L522.2 57.9L522.8 55.9L523.4 53.9L524.1 51.9L524.9 49.9L525.6 47.9L526.4 45.9L527.1 43.9L527.9 41.9L528.6 39.9L529.2 37.9L529.8 35.9L530.4 33.9L530.9 31.9L531.3 29.9L531.6 27.9L531.8 25.9L532.0 24.0L532.0 22.0L532.0 20.0L531.8 18.0L531.6 16.0L531.3 14.0L530.9 12.0L530.4 10.0L529.8 8.0L529.2 6.0L528.6 4.0L527.9 2.0L527.1 0.0Z" fill="#fff" stroke="none"/>
<path d="M496.6 0.0L497.4 2.0L498.1 4.0L498.7 6.0L499.3 8.0L499.9 10.0L500.4 12.0L500.8 14.0L501.1 16.0L501.3 18.0L501.5 20.0L501.5 22.0L501.5 24.0L501.3 25.9L501.1 27.9L500.8 29.9L500.4 31.9L499.9 33.9L499.3 35.9L498.7 37.9L498.1 39.9L497.4 41.9L496.6 43.9L495.9 45.9L495.1 47.9L494.4 49.9L493.6 51.9L492.9 53.9L492.3 55.9L491.7 57.9L491.1 59.9L490.6 61.9L490.2 63.9L489.9 65.9L489.7 67.9L489.5 69.9L489.5 71.9L489.5 73.9L489.7 75.8L489.9 77.8L490.2 79.8L490.6 81.8L491.1 83.8L491.7 85.8L492.3 87.8L492.9 89.8L493.6 91.8L494.4 93.8L495.1 95.8L495.9 97.8L496.6 99.8L497.4 101.8L498.1 103.8L498.7 105.8L499.3 107.8L499.9 109.8L500.4 111.8L500.8 113.8L501.1 115.8L501.3 117.8L501.5 119.8L501.5 121.8L501.5 123.8L501.3 125.7L501.1 127.7L500.8 129.7L500.4 131.7L499.9 133.7L499.3 135.7L498.7 137.7L498.1 139.7L497.4 141.7L496.6 143.7L495.9 145.7L495.1 147.7L494.4 149.7L493.6 151.7L492.9 153.7L492.3 155.7L491.7 157.7L491.1 159.7L490.6 161.7L490.2 163.7L489.9 165.7L489.7 167.7L489.5 169.7L489.5 171.7L489.5 173.7L489.7 175.6L489.9 177.6L490.2 179.6L490.6 181.6L491.1 183.6L491.7 185.6L492.3 187.6L492.9 189.6L493.6 191.6L494.4 193.6L495.1 195.6L495.9 197.6L496.6 199.6L497.4 201.6L498.1 203.6L498.7 205.6L499.3 207.6L499.9 209.6L500.4 211.6L500.8 213.6L501.1 215.6L501.3 217.6L501.5 219.6L501.5 221.6L501.5 223.6L501.3 225.5L501.1 227.5L500.8 229.5L500.4 231.5L499.9 233.5L499.3 235.5L498.7 237.5L498.1 239.5L497.4 241.5L496.6 243.5L495.9 245.5L495.1 247.5L494.4 249.5L493.6 251.5L492.9 253.5L492.3 255.5L491.7 257.5L491.1 259.5L490.6 261.5L490.2 263.5L489.9 265.5L489.7 267.5L489.5 269.5L489.5 271.5L489.5 273.5L489.7 275.4L489.9 277.4L490.2 279.4L490.6 281.4L491.1 283.4L491.7 285.4L492.3 287.4L492.9 289.4L493.6 291.4L494.4 293.4L495.1 295.4L495.9 297.4L496.6 299.4L497.4 301.4L498.1 303.4L498.7 305.4L499.3 307.4L499.9 309.4L500.4 311.4L500.8 313.4L501.1 315.4L501.3 317.4L501.5 319.4L501.5 321.4L501.5 323.4L501.3 325.3L501.1 327.3L500.8 329.3L500.4 331.3L499.9 333.3L499.3 335.3L498.7 337.3L498.1 339.3L497.4 341.3L496.6 343.3L495.9 345.3L495.1 347.3L494.4 349.3L493.6 351.3L492.9 353.3L492.3 355.3L491.7 357.3L491.1 359.3L490.6 361.3L490.2 363.3L489.9 365.3L489.7 367.3L489.5 369.3L489.5 371.3L489.5 373.3L489.7 375.2L489.9 377.2L490.2 379.2L490.6 381.2L491.1 383.2L491.7 385.2L492.3 387.2L492.9 389.2L493.6 391.2L494.4 393.2L495.1 395.2L495.9 397.2L496.6 399.2L497.4 401.2L498.1 403.2L498.7 405.2L499.3 407.2L499.9 409.2L500.4 411.2L500.8 413.2L501.1 415.2L501.3 417.2L501.5 419.2L501.5 421.2L501.5 423.2L501.3 425.1L501.1 427.1L500.8 429.1L500.4 431.1L499.9 433.1L499.3 435.1L498.7 437.1L498.1 439.1L497.4 441.1L496.6 443.1L495.9 445.1L495.1 447.1L494.4 449.1L493.6 451.1L492.9 453.1L492.3 455.1L491.7 457.1L491.1 459.1L490.6 461.1L490.2 463.1L489.9 465.1L489.7 467.1L489.5 469.1L489.5 471.1L489.5 473.1L489.7 475.0L489.9 477.0L490.2 479.0L490.6 481.0L491.1 483.0L491.7 485.0L492.3 487.0L492.9 489.0L493.6 491.0L494.4 493.0L495.1 495.0L495.9 497.0L496.6 499.0" fill="none" stroke="#a2a2a2" stroke-width="0.9"/>
<path d="M527.1 0.0L527.9 2.0L528.6 4.0L529.2 6.0L529.8 8.0L530.4 10.0L530.9 12.0L531.3 14.0L531.6 16.0L531.8 18.0L532.0 20.0L532.0 22.0L532.0 24.0L531.8 25.9L531.6 27.9L531.3 29.9L530.9 31.9L530.4 33.9L529.8 35.9L529.2 37.9L528.6 39.9L527.9 41.9L527.1 43.9L526.4 45.9L525.6 47.9L524.9 49.9L524.1 51.9L523.4 53.9L522.8 55.9L522.2 57.9L521.6 59.9L521.1 61.9L520.7 63.9L520.4 65.9L520.2 67.9L520.0 69.9L520.0 71.9L520.0 73.9L520.2 75.8L520.4 77.8L520.7 79.8L521.1 81.8L521.6 83.8L522.2 85.8L522.8 87.8L523.4 89.8L524.1 91.8L524.9 93.8L525.6 95.8L526.4 97.8L527.1 99.8L527.9 101.8L528.6 103.8L529.2 105.8L529.8 107.8L530.4 109.8L530.9 111.8L531.3 113.8L531.6 115.8L531.8 117.8L532.0 119.8L532.0 121.8L532.0 123.8L531.8 125.7L531.6 127.7L531.3 129.7L530.9 131.7L530.4 133.7L529.8 135.7L529.2 137.7L528.6 139.7L527.9 141.7L527.1 143.7L526.4 145.7L525.6 147.7L524.9 149.7L524.1 151.7L523.4 153.7L522.8 155.7L522.2 157.7L521.6 159.7L521.1 161.7L520.7 163.7L520.4 165.7L520.2 167.7L520.0 169.7L520.0 171.7L520.0 173.7L520.2 175.6L520.4 177.6L520.7 179.6L521.1 181.6L521.6 183.6L522.2 185.6L522.8 187.6L523.4 189.6L524.1 191.6L524.9 193.6L525.6 195.6L526.4 197.6L527.1 199.6L527.9 201.6L528.6 203.6L529.2 205.6L529.8 207.6L530.4 209.6L530.9 211.6L531.3 213.6L531.6 215.6L531.8 217.6L532.0 219.6L532.0 221.6L532.0 223.6L531.8 225.5L531.6 227.5L531.3 229.5L530.9 231.5L530.4 233.5L529.8 235.5L529.2 237.5L528.6 239.5L527.9 241.5L527.1 243.5L526.4 245.5L525.6 247.5L524.9 249.5L524.1 251.5L523.4 253.5L522.8 255.5L522.2 257.5L521.6 259.5L521.1 261.5L520.7 263.5L520.4 265.5L520.2 267.5L520.0 269.5L520.0 271.5L520.0 273.5L520.2 275.4L520.4 277.4L520.7 279.4L521.1 281.4L521.6 283.4L522.2 285.4L522.8 287.4L523.4 289.4L524.1 291.4L524.9 293.4L525.6 295.4L526.4 297.4L527.1 299.4L527.9 301.4L528.6 303.4L529.2 305.4L529.8 307.4L530.4 309.4L530.9 311.4L531.3 313.4L531.6 315.4L531.8 317.4L532.0 319.4L532.0 321.4L532.0 323.4L531.8 325.3L531.6 327.3L531.3 329.3L530.9 331.3L530.4 333.3L529.8 335.3L529.2 337.3L528.6 339.3L527.9 341.3L527.1 343.3L526.4 345.3L525.6 347.3L524.9 349.3L524.1 351.3L523.4 353.3L522.8 355.3L522.2 357.3L521.6 359.3L521.1 361.3L520.7 363.3L520.4 365.3L520.2 367.3L520.0 369.3L520.0 371.3L520.0 373.3L520.2 375.2L520.4 377.2L520.7 379.2L521.1 381.2L521.6 383.2L522.2 385.2L522.8 387.2L523.4 389.2L524.1 391.2L524.9 393.2L525.6 395.2L526.4 397.2L527.1 399.2L527.9 401.2L528.6 403.2L529.2 405.2L529.8 407.2L530.4 409.2L530.9 411.2L531.3 413.2L531.6 415.2L531.8 417.2L532.0 419.2L532.0 421.2L532.0 423.2L531.8 425.1L531.6 427.1L531.3 429.1L530.9 431.1L530.4 433.1L529.8 435.1L529.2 437.1L528.6 439.1L527.9 441.1L527.1 443.1L526.4 445.1L525.6 447.1L524.9 449.1L524.1 451.1L523.4 453.1L522.8 455.1L522.2 457.1L521.6 459.1L521.1 461.1L520.7 463.1L520.4 465.1L520.2 467.1L520.0 469.1L520.0 471.1L520.0 473.1L520.2 475.0L520.4 477.0L520.7 479.0L521.1 481.0L521.6 483.0L522.2 485.0L522.8 487.0L523.4 489.0L524.1 491.0L524.9 493.0L525.6 495.0L526.4 497.0L527.1 499.0" fill="none" stroke="#a2a2a2" stroke-width="0.9"/>
<line x1="728.8" y1="105.5" x2="728.8" y2="486" stroke="#a428ea" stroke-width="2.4" stroke-dasharray="9.5 7"/>
<rect x="555.5" y="17.6" width="230.8" height="86" fill="none" stroke="#1a1a1a" stroke-width="1.8"/>
<line x1="564" y1="34.5" x2="600" y2="34.5" stroke="#3be83b" stroke-width="2"/>
<line x1="564" y1="60" x2="600" y2="60" stroke="#4444dc" stroke-width="2"/>
<line x1="564" y1="86.3" x2="600" y2="86.3" stroke="#e24848" stroke-width="2"/>
<text transform="translate(610.94,41.60) scale(1.0450,1)" font-size="19.8" fill="#111" font-weight="normal" font-family="Liberation Sans, sans-serif">Displacement</text>
<text transform="translate(745.80,41.60) scale(1.0000,1)" font-size="19.8" fill="#111" font-weight="normal" font-family="Liberation Sans, sans-serif">XX</text>
<text transform="translate(610.94,67.30) scale(1.0450,1)" font-size="19.8" fill="#111" font-weight="normal" font-family="Liberation Sans, sans-serif">Displacement</text>
<text transform="translate(745.20,67.30) scale(1.0000,1)" font-size="19.8" fill="#111" font-weight="normal" font-family="Liberation Sans, sans-serif">YY</text>
<text transform="translate(612.74,92.20) scale(1.0450,1)" font-size="19.8" fill="#111" font-weight="normal" font-family="Liberation Sans, sans-serif">Displacement</text>
<text transform="translate(747.31,92.20) scale(1.0000,1)" font-size="19.8" fill="#111" font-weight="normal" font-family="Liberation Sans, sans-serif">ZZ</text>
<circle cx="178" cy="215.5" r="7.0" fill="#fff200" stroke="#f5b52a" stroke-width="1.3"/>
<text transform="translate(147.56,202.30) scale(1.0820,1)" font-size="17.5" fill="#c00000" font-weight="bold" font-family="Liberation Sans, sans-serif" stroke="#c00000" stroke-width="0.35">Mode 1</text>
<circle cx="232" cy="121" r="7.0" fill="#fff200" stroke="#f5b52a" stroke-width="1.3"/>
<text transform="translate(198.06,106.80) scale(1.0905,1)" font-size="17.5" fill="#c00000" font-weight="bold" font-family="Liberation Sans, sans-serif" stroke="#c00000" stroke-width="0.35">Mode 2</text>
<circle cx="240" cy="184.5" r="7.0" fill="#fff200" stroke="#f5b52a" stroke-width="1.3"/>
<text transform="translate(244.07,174.80) scale(1.0734,1)" font-size="17.5" fill="#c00000" font-weight="bold" font-family="Liberation Sans, sans-serif" stroke="#c00000" stroke-width="0.35">Mode 3</text>
<circle cx="332" cy="65.8" r="7.0" fill="#fff200" stroke="#f5b52a" stroke-width="1.3"/>
<text transform="translate(299.07,46.80) scale(1.0734,1)" font-size="17.5" fill="#c00000" font-weight="bold" font-family="Liberation Sans, sans-serif" stroke="#c00000" stroke-width="0.35">Mode 4</text>
<circle cx="399.5" cy="159.5" r="7.0" fill="#fff200" stroke="#f5b52a" stroke-width="1.3"/>
<text transform="translate(367.82,146.30) scale(1.0777,1)" font-size="17.5" fill="#c00000" font-weight="bold" font-family="Liberation Sans, sans-serif" stroke="#c00000" stroke-width="0.35">Mode 5</text>
<circle cx="442" cy="217" r="7.0" fill="#fff200" stroke="#f5b52a" stroke-width="1.3"/>
<text transform="translate(412.81,201.80) scale(1.0862,1)" font-size="17.5" fill="#c00000" font-weight="bold" font-family="Liberation Sans, sans-serif" stroke="#c00000" stroke-width="0.35">Mode 6</text>
<text transform="translate(392.99,546.10) scale(0.9690,1)" font-size="22.1" fill="#111" font-weight="normal" font-family="Liberation Sans, sans-serif" stroke="#111" stroke-width="0.2">Frequency [Hz]</text>
<text transform="translate(17.00,350.40) rotate(-90) scale(0.9440,1) translate(-1.80,0)" font-size="22.5" fill="#111" font-weight="normal" font-family="Liberation Sans, sans-serif" stroke="#111" stroke-width="0.2">Displacement [mm]</text>
<text transform="translate(436.03,583.60) scale(1.0550,1)" font-size="27.8" fill="#111" font-weight="normal" font-family="Liberation Serif, serif">(a)</text>
<path d="M101.8 896.8L103.4 896.5L105.1 896.4L106.7 896.2L108.4 896.0L110.1 895.8L111.7 895.6L113.4 895.3L115.0 895.0L116.6 894.6L118.2 894.3L119.8 893.9L121.3 893.5L122.9 893.0L124.4 892.5L126.0 891.9L127.5 891.2L129.1 890.5L130.7 889.7L132.3 888.9L133.9 888.0L135.4 887.0L137.0 886.0L138.5 884.9L140.0 883.8L141.7 882.3L143.4 880.8L145.0 879.2L146.7 877.4L148.3 875.7L149.8 873.8L151.2 871.9L152.5 870.0L153.7 868.0L154.8 865.9L155.9 863.8L156.8 861.6L157.7 859.4L158.5 857.1L159.3 854.8L160.0 852.5L160.7 850.1L161.3 847.6L161.8 845.1L162.3 842.5L162.7 840.0L163.0 837.5L163.4 835.0L163.8 832.5L164.1 830.2L164.3 827.9L164.6 825.6L164.8 823.4L165.0 821.2L165.2 819.0L165.3 816.9L165.5 815.0L165.6 813.6L165.7 812.3L165.8 811.0L165.9 809.8L166.0 808.6L166.1 807.4L166.2 806.2L166.2 805.0L166.2 805.0L166.4 806.6L166.5 808.2L166.6 809.8L166.7 811.5L166.8 813.1L166.9 814.7L167.1 816.3L167.2 818.0L167.3 819.8L167.5 821.5L167.6 823.3L167.8 825.1L167.9 826.9L168.1 828.7L168.3 830.6L168.5 832.5L168.8 834.9L169.0 837.4L169.2 839.9L169.5 842.5L169.8 845.1L170.2 847.7L170.7 850.1L171.2 852.5L171.8 854.5L172.5 856.6L173.2 858.6L174.0 860.5L174.8 862.4L175.6 864.2L176.6 865.9L177.5 867.5L178.3 868.8L179.2 870.0L180.1 871.1L181.1 872.2L182.1 873.2L183.0 874.2L184.0 875.1L185.0 876.0L185.9 876.7L186.7 877.4L187.6 878.0L188.5 878.5L189.4 879.1L190.2 879.7L191.1 880.3L192.0 881.0L193.0 881.8L194.1 882.7L195.1 883.5L196.2 884.4L197.2 885.4L198.2 886.4L199.2 887.4L200.0 888.5L200.8 889.7L201.6 891.0L202.3 892.4L202.9 893.8L203.5 895.3L204.0 896.8L204.5 898.4L205.0 900.0L205.5 902.2L206.0 904.4L206.3 906.8L206.6 909.3L206.9 911.8L207.1 914.5L207.4 917.2L207.6 920.0L207.9 923.8L208.1 927.9L208.3 932.1L208.4 936.4L208.6 940.9L208.7 945.3L208.8 949.7L209.0 954.0L209.0 954.0L209.1 949.7L209.2 945.3L209.4 940.9L209.5 936.4L209.6 932.1L209.7 927.9L209.9 923.8L210.0 920.0L210.1 917.2L210.2 914.6L210.3 912.1L210.5 909.7L210.6 907.3L210.7 904.9L210.9 902.5L211.0 900.0L211.1 897.5L211.3 895.0L211.4 892.5L211.6 890.0L211.7 887.5L211.9 885.0L212.1 882.5L212.3 880.0L212.5 877.5L212.8 875.1L213.1 872.7L213.4 870.3L213.6 867.8L213.9 865.3L214.2 862.7L214.5 860.0L214.8 856.6L215.1 853.0L215.5 849.3L215.8 845.5L216.1 841.6L216.4 837.7L216.7 833.9L217.0 830.0L217.3 825.8L217.7 821.4L218.0 816.9L218.3 812.5L218.6 808.1L218.9 804.0L219.2 800.3L219.5 797.0L219.6 795.4L219.8 793.9L219.9 792.5L220.0 791.3L220.1 790.0L220.3 788.8L220.4 787.6L220.5 786.2L220.5 786.2L220.7 788.4L220.9 790.6L221.0 792.8L221.2 795.0L221.4 797.1L221.6 799.2L221.8 801.2L222.0 803.0L222.2 804.4L222.4 805.9L222.6 807.4L222.9 808.8L223.1 810.1L223.3 811.1L223.5 811.8L223.8 812.0L224.0 811.7L224.2 810.8L224.4 809.5L224.7 807.8L224.9 805.9L225.1 803.9L225.3 801.9L225.5 800.0L225.8 797.1L226.1 793.9L226.3 790.5L226.5 787.0L226.8 783.3L227.0 779.6L227.3 776.0L227.5 772.5L227.5 772.5L227.7 774.7L227.9 776.9L228.1 779.2L228.3 781.4L228.5 783.7L228.6 785.8L228.8 788.0L229.0 790.0L229.1 791.6L229.2 793.1L229.4 794.5L229.5 796.0L229.6 797.4L229.7 799.0L229.8 800.6L230.0 802.5L230.3 806.3L230.7 810.6L231.0 815.4L231.5 820.5L231.9 825.6L232.5 830.7L233.1 835.6L233.8 840.0L234.4 843.4L235.1 846.8L235.9 850.1L236.8 853.2L237.6 856.3L238.5 859.3L239.3 862.2L240.0 865.0L240.5 867.1L241.0 869.0L241.4 870.9L241.8 872.7L242.3 874.6L242.8 876.3L243.3 878.2L244.0 880.0L244.8 882.0L245.7 884.0L246.7 886.0L247.8 887.9L248.9 889.9L249.9 891.9L251.0 893.9L252.0 896.0L253.0 898.2L254.1 900.4L255.1 902.6L256.2 904.8L257.2 907.1L258.2 909.4L259.1 911.7L260.0 914.0L260.9 916.4L261.7 918.8L262.6 921.3L263.3 923.7L264.1 926.2L264.8 928.8L265.4 931.3L266.0 934.0L266.6 937.1L267.1 940.3L267.5 943.5L267.8 946.8L268.2 950.2L268.5 953.5L268.7 956.8L269.0 960.0L269.2 963.0L269.4 966.0L269.6 968.9L269.8 971.9L269.9 974.8L270.1 977.7L270.2 980.7L270.4 983.6L270.4 983.6L270.6 980.6L270.8 977.7L270.9 974.7L271.1 971.7L271.3 968.7L271.5 965.8L271.7 962.9L272.0 960.0L272.3 957.4L272.6 954.9L272.9 952.4L273.3 949.9L273.7 947.4L274.1 944.9L274.5 942.5L275.0 940.0L275.5 937.5L276.0 934.9L276.5 932.3L277.1 929.7L277.7 927.1L278.4 924.6L279.1 922.2L280.0 920.0L280.8 918.2L281.8 916.5L282.7 914.8L283.8 913.2L284.8 911.7L285.9 910.1L287.0 908.6L288.0 907.0L289.0 905.5L290.0 904.0L291.0 902.5L291.9 901.0L292.9 899.5L294.0 898.0L295.0 896.5L296.0 895.0L297.1 893.4L298.2 891.8L299.4 890.2L300.6 888.6L301.7 887.0L302.8 885.3L303.9 883.7L305.0 882.0L306.0 880.3L307.1 878.6L308.1 876.9L309.1 875.1L310.1 873.4L310.9 871.5L311.8 869.6L312.5 867.5L313.3 864.8L313.9 861.9L314.4 858.9L314.9 855.8L315.2 852.6L315.6 849.3L315.9 845.9L316.2 842.5L316.7 838.1L317.0 833.3L317.3 828.3L317.6 823.2L317.8 818.2L318.1 813.4L318.3 808.9L318.5 805.0L318.6 802.8L318.8 800.8L318.9 798.9L319.0 797.1L319.1 795.3L319.3 793.6L319.4 791.8L319.5 790.0L319.5 790.0L319.6 792.5L319.8 795.0L319.9 797.5L320.0 800.0L320.1 802.5L320.3 805.0L320.4 807.5L320.5 810.0L320.6 812.5L320.7 814.9L320.7 817.3L320.8 819.7L320.8 822.2L320.9 824.7L321.1 827.3L321.2 830.0L321.5 833.8L321.9 837.8L322.3 842.1L322.7 846.4L323.2 850.7L323.8 854.9L324.3 858.9L325.0 862.5L325.5 865.0L326.0 867.4L326.4 869.8L327.0 872.0L327.6 874.1L328.2 876.2L329.0 878.1L330.0 880.0L331.0 881.6L332.1 883.0L333.3 884.4L334.6 885.7L336.0 887.0L337.3 888.2L338.7 889.3L340.0 890.5L341.2 891.5L342.5 892.5L343.7 893.5L345.0 894.4L346.2 895.3L347.5 896.1L348.8 897.1L350.0 898.0L351.3 899.0L352.5 900.0L353.8 900.9L355.1 901.9L356.4 902.9L357.6 904.0L358.8 905.0L360.0 906.0L361.1 907.0L362.2 907.9L363.2 908.8L364.3 909.8L365.3 910.8L366.3 911.8L367.2 912.8L368.0 914.0L368.8 915.3L369.6 916.7L370.2 918.1L370.9 919.6L371.5 921.1L372.0 922.7L372.5 924.3L373.0 926.0L373.5 928.0L374.0 930.2L374.4 932.4L374.8 934.6L375.1 936.9L375.4 939.3L375.7 941.6L376.0 944.0L376.3 946.7L376.5 949.4L376.7 952.2L376.9 955.0L377.1 957.9L377.2 960.7L377.4 963.6L377.6 966.4L377.6 966.4L377.8 963.1L377.9 959.8L378.1 956.6L378.3 953.3L378.4 950.0L378.6 946.7L378.8 943.4L379.0 940.0L379.2 936.3L379.5 932.5L379.7 928.6L379.9 924.7L380.2 920.9L380.5 917.1L380.7 913.5L381.0 910.0L381.2 907.3L381.5 904.8L381.7 902.4L382.0 900.1L382.3 897.7L382.5 895.3L382.8 892.7L383.0 890.0L383.3 886.3L383.5 882.4L383.8 878.4L384.0 874.3L384.3 870.0L384.5 865.7L384.7 861.4L385.0 857.0L385.3 851.8L385.6 846.0L386.0 840.1L386.3 834.1L386.6 828.4L386.9 823.1L387.2 818.6L387.5 815.0L387.6 813.8L387.7 812.8L387.8 811.9L387.9 811.1L388.0 810.4L388.1 809.6L388.2 808.8L388.2 808.0L388.2 808.0L388.3 809.5L388.4 810.9L388.5 812.3L388.6 813.8L388.7 815.2L388.8 816.7L388.9 818.3L389.0 820.0L389.1 822.5L389.2 825.1L389.3 827.9L389.4 830.7L389.5 833.7L389.7 836.6L389.8 839.6L390.0 842.5L390.2 845.6L390.5 848.8L390.7 852.1L391.0 855.3L391.3 858.6L391.7 861.7L392.1 864.7L392.5 867.5L392.8 869.6L393.1 871.7L393.5 873.8L393.8 875.8L394.2 877.7L394.7 879.5L395.4 881.1L396.2 882.5L397.1 883.6L398.2 884.5L399.4 885.4L400.7 886.2L401.9 886.9L403.1 887.5L404.1 887.9L405.0 888.2L405.3 888.3L405.6 888.4L405.8 888.5L406.0 888.5L406.2 888.5L406.4 888.5L406.7 888.4L407.0 888.4L407.8 888.2L408.7 888.0L409.7 887.7L410.8 887.3L411.9 886.8L413.0 886.3L414.0 885.7L415.0 885.0L416.1 884.1L417.1 883.1L418.1 881.9L419.1 880.7L420.0 879.4L420.9 878.0L421.7 876.5L422.5 875.0L423.4 872.9L424.2 870.6L424.9 868.2L425.5 865.7L426.1 863.0L426.6 860.4L427.1 857.7L427.5 855.0L427.9 852.0L428.3 848.9L428.6 845.8L428.8 842.6L429.0 839.4L429.2 836.2L429.3 833.1L429.5 830.0L429.7 827.2L429.8 824.4L429.9 821.6L430.1 818.9L430.2 816.2L430.3 813.5L430.4 810.7L430.5 808.0L430.5 808.0L430.6 810.8L430.7 813.6L430.9 816.4L431.0 819.3L431.1 822.1L431.2 824.8L431.4 827.5L431.5 830.0L431.6 832.0L431.7 833.9L431.8 835.7L431.9 837.5L432.0 839.3L432.1 841.1L432.3 843.0L432.5 845.0L432.8 847.6L433.3 850.5L433.8 853.4L434.3 856.4L434.8 859.3L435.4 862.2L435.8 865.0L436.2 867.5L436.5 869.2L436.7 870.9L436.9 872.5L437.0 874.0L437.2 875.5L437.4 877.0L437.7 878.5L438.0 880.0L438.4 881.5L438.8 883.0L439.2 884.5L439.7 886.0L440.2 887.5L440.7 889.0L441.3 890.5L442.0 892.0L442.8 893.7L443.7 895.5L444.7 897.2L445.7 899.0L446.7 900.8L447.8 902.5L448.9 904.3L450.0 906.0L451.1 907.8L452.3 909.5L453.5 911.3L454.7 913.0L455.9 914.7L457.2 916.5L458.6 918.2L460.0 920.0L461.8 922.1L463.6 924.3L465.6 926.5L467.6 928.7L469.7 930.8L471.8 933.0L473.9 935.0L476.0 937.0L478.0 938.8L480.1 940.5L482.3 942.2L484.4 943.8L486.6 945.4L488.7 947.0L490.9 948.7L493.0 950.3" fill="none" stroke="#5ee45e" stroke-width="1.0" stroke-linejoin="round" stroke-linecap="butt"/>
<path d="M521.2 975.5L528.0 975.5L534.9 975.6L541.8 975.6L548.7 975.7L555.6 975.7L562.2 975.8L568.7 975.8L575.0 975.8L580.1 975.7L585.0 975.7L589.9 975.6L594.6 975.6L599.3 975.5L603.8 975.4L608.2 975.2L612.5 975.0L615.9 974.8L619.1 974.5L622.3 974.2L625.4 973.8L628.4 973.5L631.5 973.1L634.5 972.8L637.5 972.5L640.4 972.3L643.2 972.0L646.1 971.8L648.9 971.7L651.7 971.4L654.5 971.2L657.3 970.9L660.0 970.5L662.6 970.1L665.2 969.6L667.7 969.1L670.3 968.6L672.8 968.0L675.2 967.4L677.6 966.7L680.0 966.0L682.1 965.3L684.2 964.5L686.3 963.7L688.3 962.8L690.3 962.0L692.3 961.0L694.2 960.0L696.0 959.0L697.7 958.0L699.3 957.0L700.9 955.9L702.4 954.8L703.9 953.6L705.3 952.4L706.7 951.2L708.0 950.0L709.2 948.9L710.3 947.7L711.3 946.5L712.3 945.3L713.3 944.1L714.3 942.8L715.1 941.4L716.0 940.0L716.9 938.2L717.8 936.4L718.6 934.4L719.4 932.4L720.1 930.3L720.8 928.2L721.4 926.1L722.0 924.0L722.5 921.8L723.0 919.5L723.4 917.2L723.8 914.9L724.1 912.6L724.4 910.3L724.7 908.1L725.0 906.0L725.2 904.3L725.4 902.6L725.6 901.0L725.8 899.4L725.9 897.8L726.1 896.2L726.2 894.6L726.4 893.0L726.4 893.0L726.6 894.6L726.8 896.2L727.0 897.8L727.2 899.4L727.4 901.0L727.6 902.7L727.8 904.3L728.0 906.0L728.2 907.9L728.5 909.9L728.7 911.9L728.9 913.9L729.2 915.9L729.4 918.0L729.7 920.0L730.0 922.0L730.3 924.0L730.6 926.1L730.9 928.1L731.3 930.2L731.6 932.2L732.0 934.2L732.5 936.1L733.0 938.0L733.5 939.6L734.0 941.2L734.6 942.7L735.2 944.2L735.8 945.6L736.5 947.1L737.2 948.5L738.0 950.0L738.8 951.5L739.7 953.0L740.6 954.6L741.6 956.0L742.6 957.5L743.7 959.0L744.8 960.5L746.0 962.0L747.5 963.8L749.1 965.6L750.8 967.3L752.6 969.1L754.4 970.9L756.2 972.6L758.1 974.3L760.0 976.0L761.9 977.6L763.9 979.2L765.9 980.8L768.0 982.3L770.1 983.8L772.1 985.3L774.1 986.7L776.0 988.0L777.6 989.0L779.1 990.0L780.6 991.0L782.1 991.9L783.6 992.7L785.0 993.6L786.5 994.5L788.0 995.4" fill="none" stroke="#5ee45e" stroke-width="1.0" stroke-linejoin="round" stroke-linecap="butt"/>
<path d="M101.8 811.2L105.0 811.0L108.2 810.9L111.4 810.7L114.7 810.5L117.9 810.3L121.1 810.1L124.3 809.8L127.5 809.5L130.7 809.1L133.8 808.7L137.0 808.2L140.1 807.7L143.3 807.2L146.4 806.6L149.4 806.1L152.5 805.5L155.4 805.0L158.3 804.4L161.3 803.8L164.2 803.3L167.0 802.6L169.8 802.0L172.4 801.3L175.0 800.5L177.1 799.8L179.1 799.1L181.0 798.4L182.9 797.6L184.7 796.8L186.5 795.9L188.3 795.0L190.0 794.0L191.7 792.9L193.4 791.8L195.0 790.6L196.7 789.3L198.2 788.0L199.7 786.7L201.2 785.3L202.5 784.0L203.6 782.8L204.7 781.7L205.7 780.5L206.6 779.3L207.5 778.0L208.4 776.7L209.2 775.4L210.0 774.0L210.8 772.3L211.6 770.5L212.3 768.7L212.9 766.8L213.5 764.8L214.0 762.9L214.5 760.9L215.0 759.0L215.4 757.1L215.8 755.2L216.2 753.3L216.5 751.4L216.7 749.4L217.0 747.5L217.2 745.5L217.5 743.5L217.8 741.2L218.0 738.9L218.3 736.5L218.5 734.1L218.7 731.7L218.9 729.3L219.1 727.1L219.2 725.0L219.4 723.5L219.5 722.0L219.6 720.6L219.7 719.2L219.7 717.8L219.8 716.5L219.9 715.1L220.0 713.8L220.0 713.8L220.2 715.8L220.3 717.8L220.4 719.7L220.6 721.7L220.7 723.7L220.9 725.8L221.1 727.8L221.2 730.0L221.5 732.7L221.7 735.5L222.0 738.4L222.3 741.3L222.6 744.3L222.9 747.1L223.3 749.9L223.8 752.5L224.1 754.5L224.5 756.5L224.9 758.4L225.3 760.3L225.8 762.2L226.3 764.0L226.9 765.7L227.5 767.5L228.1 769.1L228.8 770.8L229.6 772.3L230.3 773.9L231.1 775.4L232.0 777.0L232.9 778.5L233.8 780.0L234.7 781.6L235.7 783.2L236.8 784.8L237.9 786.4L239.0 788.0L240.1 789.5L241.3 791.0L242.5 792.5L243.6 793.8L244.8 795.2L246.0 796.4L247.2 797.7L248.4 798.9L249.7 800.1L251.0 801.3L252.5 802.5L254.4 804.0L256.6 805.5L258.8 807.0L261.2 808.5L263.5 810.0L265.8 811.3L268.0 812.6L270.0 813.8L271.4 814.5L272.6 815.1L273.9 815.7L275.1 816.3L276.3 816.8L277.5 817.4L278.7 817.9L280.0 818.5L281.5 819.2L283.1 819.8L284.7 820.4L286.3 821.0L287.9 821.7L289.5 822.4L291.0 823.2L292.5 824.0L293.9 824.9L295.2 825.8L296.6 826.8L297.9 827.8L299.1 828.9L300.3 830.1L301.5 831.2L302.5 832.5L303.5 833.9L304.4 835.3L305.3 836.8L306.0 838.4L306.8 840.0L307.5 841.7L308.1 843.3L308.8 845.0L309.4 846.8L309.9 848.6L310.4 850.5L310.9 852.3L311.3 854.3L311.7 856.2L312.1 858.1L312.5 860.0L312.9 861.9L313.2 863.9L313.5 865.9L313.8 867.8L314.1 869.8L314.4 871.8L314.7 873.8L315.0 875.8L315.0 875.8L315.3 871.6L315.5 867.5L315.8 863.4L316.0 859.3L316.3 855.1L316.5 851.0L316.8 846.8L317.0 842.5L317.2 838.0L317.5 833.7L317.7 829.4L318.0 825.0L318.2 820.5L318.4 815.7L318.6 810.6L318.8 805.0L319.0 795.0L319.1 783.7L319.2 771.6L319.3 758.9L319.3 745.8L319.4 732.6L319.4 719.6L319.5 707.0L319.5 707.0L319.6 715.0L319.7 723.2L319.8 731.4L319.9 739.6L320.0 747.7L320.1 755.5L320.2 763.0L320.3 770.0L320.4 775.0L320.4 779.9L320.4 784.7L320.4 789.3L320.4 793.6L320.6 797.8L320.8 801.6L321.2 805.0L321.6 806.9L321.9 808.7L322.2 810.3L322.6 811.8L323.1 813.3L323.6 814.7L324.2 816.1L325.0 817.5L325.9 818.9L327.0 820.3L328.1 821.7L329.4 823.0L330.7 824.3L332.1 825.4L333.5 826.5L335.0 827.5L336.7 828.4L338.4 829.2L340.3 829.9L342.2 830.6L344.1 831.1L346.1 831.6L348.1 832.1L350.0 832.5L351.9 832.9L353.8 833.3L355.7 833.6L357.6 833.9L359.5 834.1L361.3 834.3L363.2 834.3L365.0 834.2L366.7 834.1L368.4 834.0L370.0 833.8L371.7 833.5L373.3 833.1L374.8 832.6L376.2 832.0L377.5 831.2L378.5 830.5L379.5 829.6L380.3 828.6L381.1 827.5L381.9 826.3L382.5 825.1L383.2 823.8L383.8 822.5L384.4 820.7L385.0 818.8L385.4 816.7L385.8 814.6L386.2 812.3L386.5 810.0L386.7 807.5L387.0 805.0L387.3 801.1L387.6 796.9L387.8 792.4L387.9 787.7L388.0 782.9L388.0 778.1L388.1 773.4L388.2 768.8L388.2 768.8L388.4 774.9L388.5 781.1L388.7 787.3L388.8 793.5L389.0 799.7L389.1 805.8L389.3 811.7L389.5 817.5L389.7 822.4L389.9 827.1L390.1 831.7L390.4 836.2L390.6 840.7L390.8 845.3L391.0 850.1L391.2 855.0L391.5 861.0L391.7 867.3L391.9 873.6L392.1 880.1L392.4 886.7L392.6 893.3L392.8 899.8L393.0 906.2L393.0 906.2L393.2 902.9L393.4 899.5L393.5 896.1L393.7 892.7L393.9 889.3L394.1 886.0L394.3 882.9L394.5 880.0L394.7 877.9L394.8 875.8L395.0 873.9L395.1 872.0L395.3 870.1L395.6 868.3L395.9 866.6L396.2 865.0L396.6 863.7L396.9 862.5L397.3 861.3L397.7 860.1L398.2 859.0L398.7 858.0L399.3 857.1L400.0 856.2L400.7 855.6L401.5 854.9L402.4 854.4L403.4 853.9L404.3 853.5L405.4 853.1L406.4 852.8L407.5 852.5L408.9 852.2L410.4 852.0L412.0 851.9L413.6 851.9L415.3 851.9L416.9 851.9L418.5 852.0L420.0 852.0L421.3 852.1L422.7 852.2L424.1 852.4L425.5 852.6L426.7 852.7L427.9 852.8L428.8 852.7L429.5 852.5L429.7 852.3L429.9 852.0L430.1 851.7L430.2 851.3L430.2 851.0L430.3 850.7L430.4 850.6L430.5 850.5L430.6 850.6L430.7 850.8L430.7 851.1L430.8 851.5L430.9 851.9L431.0 852.3L431.2 852.7L431.5 853.0L433.0 853.6L435.2 854.0L438.0 854.3L441.3 854.4L444.8 854.5L448.4 854.6L451.8 854.7L455.0 855.0L458.2 855.4L461.4 855.9L464.7 856.4L468.0 856.9L471.3 857.5L474.4 858.0L477.3 858.4L480.0 858.8L481.7 858.9L483.2 859.1L484.7 859.2L486.1 859.4L487.5 859.5L488.9 859.6L490.3 859.7L491.7 859.8" fill="none" stroke="#4a4adc" stroke-width="1.0" stroke-linejoin="round" stroke-linecap="butt"/>
<path d="M518.8 882.5L529.1 883.1L539.7 883.8L550.5 884.4L561.2 885.1L571.6 885.7L581.7 886.4L591.2 887.0L600.0 887.5L605.6 887.9L610.8 888.2L615.7 888.5L620.4 888.8L625.0 889.1L629.8 889.4L634.7 889.7L640.0 890.0L647.1 890.4L654.9 890.8L663.0 891.3L671.3 891.7L679.3 892.1L687.0 892.5L694.0 892.9L700.0 893.2L703.1 893.4L706.1 893.5L709.0 893.6L711.6 893.7L714.1 893.8L716.3 893.9L718.3 894.1L720.0 894.4L720.7 894.5L721.3 894.7L721.8 894.8L722.3 895.0L722.8 895.2L723.2 895.4L723.6 895.7L724.0 896.0L724.4 896.5L724.8 897.3L725.1 898.1L725.4 898.9L725.6 899.7L725.9 900.4L726.1 900.8L726.4 901.0L726.7 900.8L726.9 900.2L727.2 899.5L727.4 898.5L727.6 897.5L727.8 896.5L728.1 895.7L728.3 895.0L728.5 894.7L728.6 894.3L728.7 894.0L728.9 893.7L729.0 893.5L729.2 893.3L729.4 893.1L729.6 893.0L729.9 893.0L730.1 893.0L730.4 893.2L730.7 893.3L731.1 893.5L731.4 893.7L731.7 893.9L732.0 894.0L732.2 894.1L732.4 894.1L732.6 894.2L732.8 894.2L733.1 894.3L733.3 894.3L733.6 894.4L734.0 894.4L737.2 894.7L742.4 895.0L748.9 895.4L756.4 895.8L764.5 896.2L772.8 896.6L780.7 897.0L788.0 897.4" fill="none" stroke="#4a4adc" stroke-width="1.0" stroke-linejoin="round" stroke-linecap="butt"/>
<path d="M101.8 830.8L105.0 830.6L108.2 830.5L111.4 830.4L114.7 830.3L117.9 830.2L121.1 830.0L124.3 829.8L127.5 829.5L130.7 829.2L133.8 828.8L136.9 828.3L140.1 827.8L143.2 827.3L146.3 826.8L149.4 826.1L152.5 825.5L155.7 824.8L158.9 824.1L162.1 823.4L165.4 822.6L168.5 821.7L171.6 820.8L174.6 819.8L177.5 818.7L179.9 817.7L182.3 816.6L184.6 815.5L186.9 814.3L189.1 813.0L191.2 811.7L193.1 810.4L195.0 809.0L196.5 807.7L197.9 806.4L199.3 805.0L200.5 803.6L201.8 802.1L202.9 800.7L204.0 799.3L205.0 798.0L205.7 797.0L206.4 796.1L207.1 795.2L207.7 794.3L208.3 793.4L208.8 792.5L209.4 791.5L210.0 790.5L210.7 789.3L211.4 788.1L212.0 786.8L212.7 785.5L213.3 784.2L214.0 782.8L214.5 781.4L215.0 780.0L215.5 778.3L215.9 776.5L216.2 774.7L216.5 772.8L216.8 770.9L217.0 769.0L217.2 767.0L217.5 765.0L217.8 762.6L218.1 760.2L218.4 757.7L218.6 755.2L218.8 752.6L219.1 750.1L219.3 747.5L219.5 745.0L219.7 742.5L219.9 740.0L220.0 737.5L220.2 735.0L220.3 732.5L220.5 730.0L220.6 727.5L220.8 725.0L220.8 725.0L221.0 728.1L221.1 731.3L221.3 734.4L221.5 737.5L221.7 740.6L221.9 743.8L222.2 746.9L222.5 750.0L222.9 753.2L223.3 756.5L223.7 759.7L224.2 763.0L224.6 766.2L225.2 769.3L225.7 772.3L226.2 775.0L226.7 776.8L227.1 778.6L227.5 780.2L227.9 781.8L228.4 783.4L228.9 784.9L229.4 786.5L230.0 788.0L230.7 789.6L231.4 791.2L232.2 792.8L233.0 794.4L233.9 795.9L234.7 797.4L235.5 798.8L236.2 800.0L236.7 800.7L237.1 801.4L237.5 802.0L238.0 802.6L238.4 803.2L238.9 803.7L239.4 804.3L240.0 805.0L241.2 806.2L242.5 807.4L244.0 808.7L245.5 810.0L247.2 811.4L248.9 812.7L250.7 813.9L252.5 815.0L254.5 816.1L256.7 817.2L259.0 818.2L261.3 819.2L263.6 820.1L265.9 821.0L268.0 821.8L270.0 822.5L271.4 823.0L272.6 823.5L273.8 824.0L275.0 824.4L276.2 824.8L277.4 825.2L278.7 825.5L280.0 825.8L281.7 826.0L283.6 826.2L285.5 826.4L287.5 826.5L289.5 826.5L291.4 826.5L293.3 826.4L295.0 826.2L296.4 826.1L297.7 825.9L299.0 825.7L300.3 825.4L301.5 825.1L302.7 824.7L303.9 824.3L305.0 823.8L306.1 823.2L307.1 822.5L308.1 821.9L309.1 821.1L310.0 820.3L310.9 819.4L311.7 818.5L312.5 817.5L313.3 816.2L314.0 814.8L314.6 813.3L315.2 811.7L315.7 810.0L316.2 808.4L316.6 806.7L317.0 805.0L317.4 803.3L317.7 801.7L317.9 800.0L318.1 798.4L318.3 796.6L318.4 794.6L318.6 792.5L318.8 790.0L319.1 782.8L319.3 774.0L319.4 763.8L319.4 752.7L319.4 741.1L319.4 729.3L319.4 717.8L319.5 707.0L319.5 707.0L319.6 713.7L319.8 720.5L319.9 727.4L320.0 734.2L320.1 740.9L320.3 747.5L320.4 753.9L320.5 760.0L320.6 764.8L320.7 769.4L320.7 774.0L320.8 778.4L320.9 782.8L321.0 787.0L321.1 791.0L321.2 795.0L321.4 798.0L321.6 800.9L321.8 803.7L322.1 806.4L322.3 809.1L322.5 811.8L322.8 814.6L323.0 817.5L323.2 820.8L323.5 824.1L323.7 827.5L324.0 830.9L324.2 834.3L324.5 837.8L324.7 841.4L325.0 845.0L325.3 849.1L325.6 853.4L326.0 857.6L326.3 862.0L326.6 866.4L326.9 870.9L327.2 875.4L327.5 880.0L327.8 885.3L328.0 890.6L328.2 896.1L328.4 901.7L328.6 907.3L328.8 912.9L329.0 918.5L329.2 924.0L329.2 924.0L329.4 918.4L329.6 912.5L329.7 906.6L329.9 900.8L330.1 895.0L330.3 889.6L330.5 884.5L330.8 880.0L330.9 877.4L331.0 874.9L331.1 872.6L331.3 870.4L331.4 868.3L331.7 866.3L332.0 864.4L332.5 862.5L333.0 861.1L333.5 859.7L334.0 858.4L334.6 857.1L335.3 855.9L336.0 854.8L336.7 853.6L337.5 852.5L338.3 851.4L339.1 850.4L340.0 849.5L341.0 848.5L341.9 847.6L342.9 846.7L344.0 845.8L345.0 845.0L346.1 844.1L347.3 843.3L348.5 842.5L349.8 841.7L351.1 841.0L352.3 840.2L353.7 839.5L355.0 838.8L356.5 838.0L358.1 837.2L359.7 836.5L361.3 835.8L362.9 835.1L364.5 834.3L366.0 833.5L367.5 832.5L368.9 831.5L370.3 830.4L371.6 829.2L372.9 828.0L374.2 826.7L375.3 825.4L376.5 824.0L377.5 822.5L378.5 820.9L379.5 819.1L380.3 817.3L381.1 815.4L381.8 813.5L382.5 811.5L383.2 809.5L383.8 807.5L384.4 805.2L384.9 803.0L385.3 800.7L385.7 798.3L386.1 795.9L386.4 793.3L386.7 790.5L387.0 787.5L387.4 782.1L387.7 776.1L387.8 769.6L387.9 762.8L388.0 755.8L388.1 748.7L388.1 741.7L388.2 735.0L388.2 735.0L388.3 739.4L388.4 743.9L388.5 748.5L388.6 753.0L388.7 757.4L388.8 761.8L388.9 766.0L389.0 770.0L389.1 773.1L389.2 776.1L389.3 779.0L389.3 781.9L389.4 784.6L389.6 787.3L389.8 789.9L390.0 792.5L390.2 794.5L390.5 796.5L390.7 798.4L391.0 800.2L391.3 802.0L391.7 803.8L392.1 805.7L392.5 807.5L393.0 809.4L393.5 811.3L394.1 813.2L394.7 815.1L395.3 817.0L396.0 818.8L396.7 820.7L397.5 822.5L398.3 824.3L399.1 826.1L399.9 827.8L400.8 829.6L401.8 831.3L402.8 833.0L403.8 834.6L405.0 836.2L406.3 837.9L407.8 839.6L409.4 841.3L411.0 842.9L412.7 844.4L414.3 845.9L415.9 847.4L417.5 848.8L418.8 849.8L420.2 850.9L421.6 851.8L423.0 852.8L424.3 853.7L425.5 854.5L426.6 855.4L427.5 856.2L427.9 856.8L428.3 857.3L428.7 857.7L429.0 858.2L429.3 858.7L429.5 859.1L429.8 859.6L430.0 860.0L430.1 860.3L430.3 860.5L430.4 860.6L430.5 860.8L430.5 861.0L430.6 861.3L430.7 861.6L430.8 862.0L431.3 868.0L431.6 878.7L431.6 892.9L431.5 909.6L431.4 927.8L431.2 946.2L431.0 964.0L431.0 980.0L431.0 980.0L431.0 964.0L430.9 946.2L430.8 927.8L430.6 909.6L430.6 892.9L430.7 878.7L431.0 868.0L431.6 862.0L431.7 861.6L431.8 861.2L431.8 860.9L431.9 860.6L432.0 860.4L432.1 860.2L432.3 860.1L432.5 860.0L433.2 860.2L434.2 860.8L435.4 861.9L436.7 863.2L438.1 864.7L439.6 866.1L441.1 867.6L442.5 868.8L444.0 869.9L445.5 871.0L447.0 872.1L448.6 873.2L450.2 874.3L451.8 875.4L453.4 876.5L455.0 877.5L456.5 878.5L458.1 879.4L459.6 880.4L461.1 881.3L462.7 882.2L464.3 883.1L465.9 884.0L467.5 885.0L469.4 886.1L471.3 887.3L473.2 888.4L475.1 889.6L477.1 890.8L479.1 892.0L481.1 893.2L483.0 894.4" fill="none" stroke="#e05c5c" stroke-width="1.0" stroke-linejoin="round" stroke-linecap="butt"/>
<path d="M526.2 948.8L529.2 949.5L532.2 950.3L535.1 951.0L538.1 951.8L541.1 952.6L544.0 953.4L547.0 954.2L550.0 955.0L553.1 955.9L556.2 956.8L559.3 957.7L562.5 958.6L565.6 959.6L568.8 960.5L571.9 961.5L575.0 962.5L578.2 963.5L581.4 964.6L584.7 965.7L587.9 966.9L591.1 968.0L594.2 969.1L597.2 970.2L600.0 971.2L602.1 972.0L604.1 972.7L606.0 973.4L607.8 974.1L609.6 974.8L611.4 975.6L613.2 976.5L615.0 977.5L617.0 978.8L618.9 980.2L620.9 981.8L622.8 983.4L624.7 985.1L626.5 986.8L628.3 988.4L630.0 990.0L631.4 991.3L632.8 992.5L634.1 993.7L635.4 995.0L636.6 996.2L637.8 997.4L638.9 998.7L640.0 1000.0L640.9 1001.2L641.8 1002.4L642.6 1003.5L643.3 1004.7L644.1 1006.0L644.7 1007.3L645.4 1008.6L646.0 1010.0L646.7 1011.8L647.3 1013.7L647.8 1015.7L648.3 1017.8L648.8 1019.9L649.2 1022.0L649.6 1024.0L650.0 1026.0L650.4 1027.9L650.7 1029.8L651.0 1031.8L651.3 1033.8L651.5 1035.6L651.8 1037.3L652.1 1038.8L652.4 1040.0L652.5 1040.4L652.6 1040.8L652.8 1041.2L652.9 1041.5L653.0 1041.8L653.1 1042.0L653.3 1042.2L653.5 1042.4L653.7 1042.5L654.0 1042.6L654.2 1042.6L654.5 1042.7L654.8 1042.7L655.0 1042.6L655.3 1042.5L655.5 1042.4L655.8 1042.1L656.0 1041.6L656.2 1041.0L656.4 1040.3L656.6 1039.6L656.7 1038.7L656.8 1037.9L657.0 1037.0L657.3 1035.3L657.5 1033.4L657.7 1031.3L657.9 1029.0L658.1 1026.7L658.3 1024.4L658.6 1022.2L659.0 1020.0L659.5 1017.9L660.0 1015.9L660.5 1013.8L661.1 1011.8L661.7 1009.7L662.4 1007.8L663.2 1005.8L664.0 1004.0L664.8 1002.4L665.7 1000.8L666.6 999.3L667.6 997.8L668.6 996.3L669.7 994.9L670.8 993.4L672.0 992.0L673.3 990.4L674.7 988.9L676.1 987.3L677.6 985.8L679.1 984.3L680.7 982.9L682.3 981.4L684.0 980.0L685.9 978.5L687.8 977.0L689.8 975.6L691.9 974.2L694.0 972.8L696.1 971.5L698.1 970.2L700.0 969.0L701.6 968.0L703.2 967.1L704.7 966.3L706.3 965.5L707.8 964.7L709.3 963.8L710.7 963.0L712.0 962.0L713.2 961.1L714.3 960.2L715.4 959.2L716.4 958.2L717.4 957.2L718.3 956.2L719.2 955.1L720.0 954.0L720.7 952.9L721.3 951.7L721.9 950.6L722.4 949.4L722.8 948.1L723.2 946.8L723.6 945.5L724.0 944.0L724.5 941.8L724.9 939.3L725.2 936.7L725.4 934.0L725.7 931.2L725.9 928.4L726.1 925.7L726.4 923.0L726.4 923.0L726.6 925.1L726.8 927.1L727.0 929.2L727.2 931.2L727.4 933.3L727.6 935.4L727.8 937.6L728.0 940.0L728.3 943.4L728.5 947.0L728.7 950.9L729.0 954.9L729.2 958.8L729.5 962.7L729.7 966.5L730.0 970.0L730.2 972.7L730.4 975.5L730.6 978.1L730.8 980.7L731.1 983.2L731.3 985.6L731.6 987.9L732.0 990.0L732.3 991.6L732.7 993.2L733.1 994.9L733.5 996.5L733.9 997.9L734.3 999.0L734.7 999.7L735.0 1000.0L735.3 999.7L735.5 998.9L735.8 997.7L736.0 996.2L736.2 994.6L736.5 993.0L736.7 991.4L737.0 990.0L737.3 988.7L737.6 987.4L737.9 986.2L738.2 984.9L738.6 983.6L739.0 982.4L739.5 981.2L740.0 980.0L740.6 978.9L741.2 977.8L741.9 976.7L742.7 975.7L743.5 974.7L744.3 973.8L745.1 972.8L746.0 972.0L746.9 971.2L747.8 970.5L748.7 969.9L749.7 969.3L750.7 968.7L751.7 968.1L752.8 967.6L754.0 967.0L755.5 966.3L757.1 965.7L758.8 965.1L760.5 964.5L762.4 964.0L764.2 963.4L766.1 962.9L768.0 962.4L770.3 961.8L772.7 961.3L775.2 960.8L777.8 960.4L780.3 959.9L782.9 959.5L785.5 959.1L788.0 958.6" fill="none" stroke="#e05c5c" stroke-width="1.0" stroke-linejoin="round" stroke-linecap="butt"/>
<line x1="101.8" y1="671" x2="101.8" y2="1121.4" stroke="#4a4a4a" stroke-width="1.1"/>
<line x1="96" y1="1115.7" x2="789.4" y2="1115.7" stroke="#4a4a4a" stroke-width="1.5"/>
<line x1="96" y1="671.4" x2="101.8" y2="671.4" stroke="#4a4a4a" stroke-width="1.2"/>
<text transform="translate(23.29,678.15) scale(0.8950,1)" font-size="18.2" fill="#111" font-weight="normal" font-family="Liberation Sans, sans-serif">1000000</text>
<line x1="96" y1="720.7" x2="101.8" y2="720.7" stroke="#4a4a4a" stroke-width="1.2"/>
<text transform="translate(32.35,728.58) scale(0.8950,1)" font-size="18.2" fill="#111" font-weight="normal" font-family="Liberation Sans, sans-serif">100000</text>
<line x1="96" y1="770.1" x2="101.8" y2="770.1" stroke="#4a4a4a" stroke-width="1.2"/>
<text transform="translate(42.00,777.11) scale(0.8950,1)" font-size="18.2" fill="#111" font-weight="normal" font-family="Liberation Sans, sans-serif">10000</text>
<line x1="96" y1="819.4" x2="101.8" y2="819.4" stroke="#4a4a4a" stroke-width="1.2"/>
<text transform="translate(49.16,828.29) scale(0.8950,1)" font-size="18.2" fill="#111" font-weight="normal" font-family="Liberation Sans, sans-serif">1000</text>
<line x1="96" y1="868.7" x2="101.8" y2="868.7" stroke="#4a4a4a" stroke-width="1.2"/>
<text transform="translate(59.52,877.08) scale(0.8950,1)" font-size="18.2" fill="#111" font-weight="normal" font-family="Liberation Sans, sans-serif">100</text>
<line x1="96" y1="918.0" x2="101.8" y2="918.0" stroke="#4a4a4a" stroke-width="1.2"/>
<text transform="translate(55.60,925.75) scale(0.8950,1)" font-size="18.2" fill="#111" font-weight="normal" font-family="Liberation Sans, sans-serif">10.0</text>
<line x1="96" y1="967.4" x2="101.8" y2="967.4" stroke="#4a4a4a" stroke-width="1.2"/>
<text transform="translate(61.56,974.03) scale(0.8950,1)" font-size="18.2" fill="#111" font-weight="normal" font-family="Liberation Sans, sans-serif">1.0</text>
<line x1="96" y1="1016.7" x2="101.8" y2="1016.7" stroke="#4a4a4a" stroke-width="1.2"/>
<text transform="translate(61.36,1022.61) scale(0.8950,1)" font-size="18.2" fill="#111" font-weight="normal" font-family="Liberation Sans, sans-serif">0.1</text>
<line x1="96" y1="1066.0" x2="101.8" y2="1066.0" stroke="#4a4a4a" stroke-width="1.2"/>
<text transform="translate(52.50,1073.64) scale(0.8950,1)" font-size="18.2" fill="#111" font-weight="normal" font-family="Liberation Sans, sans-serif">0.01</text>
<text transform="translate(81.64,1118.30) scale(1.0000,1)" font-size="6.0" fill="#333" font-weight="normal" font-family="Liberation Sans, sans-serif">0.00</text>
<line x1="220" y1="1115" x2="220" y2="1122" stroke="#4a4a4a" stroke-width="1.2"/>
<line x1="338" y1="1115" x2="338" y2="1122" stroke="#4a4a4a" stroke-width="1.2"/>
<line x1="456.5" y1="1115" x2="456.5" y2="1122" stroke="#4a4a4a" stroke-width="1.2"/>
<line x1="563.3" y1="1115" x2="563.3" y2="1122" stroke="#4a4a4a" stroke-width="1.2"/>
<line x1="675.9" y1="1115" x2="675.9" y2="1122" stroke="#4a4a4a" stroke-width="1.2"/>
<line x1="788.5" y1="1115" x2="788.5" y2="1122" stroke="#4a4a4a" stroke-width="1.2"/>
<text transform="translate(94.45,1145.60) scale(0.9250,1)" font-size="17.9" fill="#111" font-weight="normal" font-family="Liberation Sans, sans-serif">0</text>
<text transform="translate(209.26,1145.60) scale(0.9250,1)" font-size="17.9" fill="#111" font-weight="normal" font-family="Liberation Sans, sans-serif">10</text>
<text transform="translate(328.18,1145.60) scale(0.9250,1)" font-size="17.9" fill="#111" font-weight="normal" font-family="Liberation Sans, sans-serif">20</text>
<text transform="translate(446.34,1145.60) scale(0.9250,1)" font-size="17.9" fill="#111" font-weight="normal" font-family="Liberation Sans, sans-serif">30</text>
<text transform="translate(547.91,1145.60) scale(0.9250,1)" font-size="17.9" fill="#111" font-weight="normal" font-family="Liberation Sans, sans-serif">120</text>
<text transform="translate(660.51,1145.60) scale(0.9250,1)" font-size="17.9" fill="#111" font-weight="normal" font-family="Liberation Sans, sans-serif">140</text>
<text transform="translate(773.54,1145.60) scale(0.9250,1)" font-size="17.9" fill="#111" font-weight="normal" font-family="Liberation Sans, sans-serif">160</text>
<text transform="translate(710.79,1145.60) scale(0.9500,1)" font-size="17.9" fill="#b040e0" font-weight="normal" font-family="Liberation Sans, sans-serif">(150)</text>
<path d="M490.1 620.6L490.8 622.6L491.5 624.6L492.2 626.6L492.7 628.6L493.3 630.6L493.7 632.6L494.1 634.6L494.4 636.6L494.6 638.6L494.7 640.6L494.7 642.6L494.6 644.6L494.4 646.6L494.2 648.6L493.8 650.6L493.4 652.6L492.8 654.6L492.3 656.6L491.6 658.6L490.9 660.6L490.2 662.6L489.4 664.6L488.7 666.6L487.9 668.6L487.1 670.6L486.4 672.6L485.6 674.6L484.9 676.6L484.3 678.6L483.7 680.6L483.2 682.5L482.8 684.5L482.4 686.5L482.2 688.5L482.0 690.5L481.9 692.5L481.9 694.5L482.0 696.5L482.2 698.5L482.5 700.5L482.9 702.5L483.4 704.5L483.9 706.5L484.5 708.5L485.1 710.5L485.8 712.5L486.6 714.5L487.3 716.5L488.1 718.5L488.9 720.5L489.7 722.5L490.4 724.5L491.1 726.5L491.8 728.5L492.4 730.5L493.0 732.5L493.5 734.5L493.9 736.5L494.2 738.5L494.5 740.5L494.6 742.5L494.7 744.5L494.7 746.5L494.5 748.5L494.3 750.5L494.0 752.5L493.6 754.5L493.1 756.5L492.6 758.5L492.0 760.5L491.3 762.5L490.6 764.5L489.9 766.5L489.1 768.5L488.3 770.5L487.5 772.5L486.8 774.5L486.0 776.5L485.3 778.5L484.6 780.5L484.0 782.5L483.5 784.5L483.0 786.5L482.6 788.5L482.3 790.5L482.1 792.5L481.9 794.5L481.9 796.5L482.0 798.5L482.1 800.5L482.4 802.5L482.7 804.5L483.1 806.4L483.6 808.4L484.2 810.4L484.8 812.4L485.5 814.4L486.2 816.4L486.9 818.4L487.7 820.4L488.5 822.4L489.2 824.4L490.0 826.4L490.7 828.4L491.4 830.4L492.1 832.4L492.7 834.4L493.2 836.4L493.7 838.4L494.1 840.4L494.4 842.4L494.6 844.4L494.7 846.4L494.7 848.4L494.6 850.4L494.4 852.4L494.2 854.4L493.8 856.4L493.4 858.4L492.9 860.4L492.3 862.4L491.7 864.4L491.0 866.4L490.3 868.4L489.5 870.4L488.7 872.4L488.0 874.4L487.2 876.4L486.4 878.4L485.7 880.4L485.0 882.4L484.4 884.4L483.8 886.4L483.3 888.4L482.8 890.4L482.5 892.4L482.2 894.4L482.0 896.4L481.9 898.4L481.9 900.4L482.0 902.4L482.2 904.4L482.5 906.4L482.9 908.4L483.3 910.4L483.8 912.4L484.4 914.4L485.1 916.4L485.8 918.4L486.5 920.4L487.3 922.4L488.0 924.4L488.8 926.4L489.6 928.4L490.4 930.3L491.1 932.3L491.8 934.3L492.4 936.3L493.0 938.3L493.5 940.3L493.9 942.3L494.2 944.3L494.5 946.3L494.6 948.3L494.7 950.3L494.7 952.3L494.5 954.3L494.3 956.3L494.0 958.3L493.6 960.3L493.2 962.3L492.6 964.3L492.0 966.3L491.4 968.3L490.7 970.3L489.9 972.3L489.2 974.3L488.4 976.3L487.6 978.3L486.8 980.3L486.1 982.3L485.4 984.3L484.7 986.3L484.1 988.3L483.5 990.3L483.0 992.3L482.6 994.3L482.3 996.3L482.1 998.3L481.9 1000.3L481.9 1002.3L481.9 1004.3L482.1 1006.3L482.3 1008.3L482.7 1010.3L483.1 1012.3L483.5 1014.3L484.1 1016.3L484.7 1018.3L485.4 1020.3L486.1 1022.3L486.9 1024.3L487.6 1026.3L488.4 1028.3L489.2 1030.3L489.9 1032.3L490.7 1034.3L491.4 1036.3L492.0 1038.3L492.7 1040.3L493.2 1042.3L493.7 1044.3L494.0 1046.3L494.3 1048.3L494.6 1050.3L494.7 1052.3L494.7 1054.2L494.6 1056.2L494.5 1058.2L494.2 1060.2L493.9 1062.2L493.4 1064.2L492.9 1066.2L492.4 1068.2L491.7 1070.2L491.0 1072.2L490.3 1074.2L489.6 1076.2L488.8 1078.2L488.0 1080.2L487.2 1082.2L486.5 1084.2L485.7 1086.2L485.1 1088.2L484.4 1090.2L483.8 1092.2L483.3 1094.2L482.8 1096.2L482.5 1098.2L482.2 1100.2L482.0 1102.2L481.9 1104.2L481.9 1106.2L482.0 1108.2L482.2 1110.2L482.5 1112.2L482.8 1114.2L514.0 1114.2L513.7 1112.2L513.4 1110.2L513.2 1108.2L513.1 1106.2L513.1 1104.2L513.2 1102.2L513.4 1100.2L513.7 1098.2L514.0 1096.2L514.5 1094.3L515.0 1092.3L515.6 1090.3L516.2 1088.3L516.9 1086.3L517.7 1084.3L518.4 1082.3L519.2 1080.3L520.0 1078.3L520.7 1076.3L521.5 1074.3L522.2 1072.3L522.9 1070.3L523.5 1068.3L524.1 1066.3L524.6 1064.3L525.0 1062.3L525.4 1060.3L525.7 1058.3L525.8 1056.4L525.9 1054.4L525.9 1052.4L525.8 1050.4L525.6 1048.4L525.3 1046.4L524.9 1044.4L524.4 1042.4L523.9 1040.4L523.3 1038.4L522.6 1036.4L521.9 1034.4L521.2 1032.4L520.4 1030.4L519.7 1028.4L518.9 1026.4L518.1 1024.4L517.4 1022.4L516.7 1020.4L516.0 1018.5L515.4 1016.5L514.8 1014.5L514.3 1012.5L513.9 1010.5L513.6 1008.5L513.3 1006.5L513.2 1004.5L513.1 1002.5L513.1 1000.5L513.3 998.5L513.5 996.5L513.8 994.5L514.2 992.5L514.7 990.5L515.2 988.5L515.8 986.5L516.5 984.5L517.2 982.5L517.9 980.6L518.7 978.6L519.5 976.6L520.3 974.6L521.0 972.6L521.8 970.6L522.5 968.6L523.1 966.6L523.8 964.6L524.3 962.6L524.8 960.6L525.2 958.6L525.5 956.6L525.7 954.6L525.9 952.6L525.9 950.6L525.8 948.6L525.7 946.6L525.5 944.6L525.1 942.7L524.7 940.7L524.2 938.7L523.7 936.7L523.1 934.7L522.4 932.7L521.7 930.7L520.9 928.7L520.2 926.7L519.4 924.7L518.6 922.7L517.8 920.7L517.1 918.7L516.4 916.7L515.7 914.7L515.1 912.7L514.6 910.7L514.1 908.7L513.8 906.7L513.5 904.8L513.2 902.8L513.1 900.8L513.1 898.8L513.2 896.8L513.3 894.8L513.6 892.8L513.9 890.8L514.4 888.8L514.9 886.8L515.4 884.8L516.1 882.8L516.7 880.8L517.5 878.8L518.2 876.8L519.0 874.8L519.8 872.8L520.5 870.8L521.3 868.8L522.0 866.9L522.7 864.9L523.4 862.9L524.0 860.9L524.5 858.9L524.9 856.9L525.3 854.9L525.6 852.9L525.8 850.9L525.9 848.9L525.9 846.9L525.8 844.9L525.6 842.9L525.4 840.9L525.0 838.9L524.6 836.9L524.0 834.9L523.5 832.9L522.8 830.9L522.1 828.9L521.4 827.0L520.6 825.0L519.9 823.0L519.1 821.0L518.3 819.0L517.6 817.0L516.8 815.0L516.2 813.0L515.5 811.0L514.9 809.0L514.4 807.0L514.0 805.0L513.6 803.0L513.4 801.0L513.2 799.0L513.1 797.0L513.1 795.0L513.2 793.0L513.4 791.0L513.7 789.1L514.1 787.1L514.5 785.1L515.1 783.1L515.7 781.1L516.3 779.1L517.0 777.1L517.7 775.1L518.5 773.1L519.3 771.1L520.0 769.1L520.8 767.1L521.6 765.1L522.3 763.1L523.0 761.1L523.6 759.1L524.2 757.1L524.7 755.1L525.1 753.1L525.4 751.2L525.7 749.2L525.8 747.2L525.9 745.2L525.9 743.2L525.7 741.2L525.5 739.2L525.2 737.2L524.8 735.2L524.4 733.2L523.8 731.2L523.2 729.2L522.6 727.2L521.9 725.2L521.1 723.2L520.4 721.2L519.6 719.2L518.8 717.2L518.0 715.2L517.3 713.3L516.6 711.3L515.9 709.3L515.3 707.3L514.7 705.3L514.3 703.3L513.9 701.3L513.5 699.3L513.3 697.3L513.2 695.3L513.1 693.3L513.1 691.3L513.3 689.3L513.5 687.3L513.8 685.3L514.2 683.3L514.7 681.3L515.3 679.3L515.9 677.3L516.5 675.4L517.3 673.4L518.0 671.4L518.8 669.4L519.5 667.4L520.3 665.4L521.1 663.4L521.8 661.4L522.5 659.4L523.2 657.4L523.8 655.4L524.3 653.4L524.8 651.4L525.2 649.4L525.5 647.4L525.7 645.4L525.9 643.4L525.9 641.4L525.8 639.4L525.7 637.5L525.4 635.5L525.1 633.5L524.7 631.5L524.2 629.5L523.6 627.5L523.0 625.5L522.3 623.5L521.6 621.5L520.9 619.5Z" fill="#fff" stroke="none"/>
<path d="M490.1 620.6L490.8 622.6L491.5 624.6L492.2 626.6L492.7 628.6L493.3 630.6L493.7 632.6L494.1 634.6L494.4 636.6L494.6 638.6L494.7 640.6L494.7 642.6L494.6 644.6L494.4 646.6L494.2 648.6L493.8 650.6L493.4 652.6L492.8 654.6L492.3 656.6L491.6 658.6L490.9 660.6L490.2 662.6L489.4 664.5L488.7 666.5L487.9 668.5L487.1 670.5L486.4 672.5L485.6 674.5L484.9 676.5L484.3 678.5L483.7 680.5L483.2 682.5L482.8 684.5L482.4 686.5L482.2 688.5L482.0 690.5L481.9 692.5L481.9 694.5L482.0 696.5L482.2 698.5L482.5 700.5L482.9 702.5L483.3 704.5L483.9 706.5L484.5 708.5L485.1 710.5L485.8 712.5L486.6 714.5L487.3 716.5L488.1 718.5L488.9 720.5L489.6 722.5L490.4 724.5L491.1 726.5L491.8 728.5L492.4 730.5L493.0 732.5L493.5 734.5L493.9 736.5L494.2 738.5L494.5 740.5L494.6 742.5L494.7 744.5L494.7 746.5L494.5 748.5L494.3 750.4L494.0 752.4L493.6 754.4L493.1 756.4L492.6 758.4L492.0 760.4L491.3 762.4L490.6 764.4L489.9 766.4L489.1 768.4L488.3 770.4L487.6 772.4L486.8 774.4L486.0 776.4L485.3 778.4L484.7 780.4L484.0 782.4L483.5 784.4L483.0 786.4L482.6 788.4L482.3 790.4L482.1 792.4L481.9 794.4L481.9 796.4L482.0 798.4L482.1 800.4L482.3 802.4L482.7 804.4L483.1 806.4L483.6 808.4L484.1 810.4L484.8 812.4L485.4 814.4L486.1 816.4L486.9 818.4L487.7 820.4L488.4 822.4L489.2 824.4L490.0 826.4L490.7 828.4L491.4 830.4L492.1 832.4L492.7 834.4L493.2 836.3L493.7 838.3L494.1 840.3L494.4 842.3L494.6 844.3L494.7 846.3L494.7 848.3L494.6 850.3L494.5 852.3L494.2 854.3L493.8 856.3L493.4 858.3L492.9 860.3L492.3 862.3L491.7 864.3L491.0 866.3L490.3 868.3L489.5 870.3L488.8 872.3L488.0 874.3L487.2 876.3L486.5 878.3L485.7 880.3L485.0 882.3L484.4 884.3L483.8 886.3L483.3 888.3L482.8 890.3L482.5 892.3L482.2 894.3L482.0 896.3L481.9 898.3L481.9 900.3L482.0 902.3L482.2 904.3L482.5 906.3L482.8 908.3L483.3 910.3L483.8 912.3L484.4 914.3L485.0 916.3L485.7 918.3L486.5 920.2L487.2 922.2L488.0 924.2L488.8 926.2L489.6 928.2L490.3 930.2L491.0 932.2L491.7 934.2L492.3 936.2L492.9 938.2L493.4 940.2L493.9 942.2L494.2 944.2L494.5 946.2L494.6 948.2L494.7 950.2L494.7 952.2L494.6 954.2L494.3 956.2L494.0 958.2L493.7 960.2L493.2 962.2L492.7 964.2L492.1 966.2L491.4 968.2L490.7 970.2L490.0 972.2L489.2 974.2L488.4 976.2L487.6 978.2L486.9 980.2L486.1 982.2L485.4 984.2L484.7 986.2L484.1 988.2L483.6 990.2L483.1 992.2L482.7 994.2L482.3 996.2L482.1 998.2L482.0 1000.2L481.9 1002.2L481.9 1004.2L482.1 1006.1L482.3 1008.1L482.6 1010.1L483.0 1012.1L483.5 1014.1L484.1 1016.1L484.7 1018.1L485.3 1020.1L486.1 1022.1L486.8 1024.1L487.6 1026.1L488.3 1028.1L489.1 1030.1L489.9 1032.1L490.6 1034.1L491.3 1036.1L492.0 1038.1L492.6 1040.1L493.2 1042.1L493.6 1044.1L494.0 1046.1L494.3 1048.1L494.5 1050.1L494.7 1052.1L494.7 1054.1L494.6 1056.1L494.5 1058.1L494.2 1060.1L493.9 1062.1L493.5 1064.1L493.0 1066.1L492.4 1068.1L491.8 1070.1L491.1 1072.1L490.4 1074.1L489.6 1076.1L488.9 1078.1L488.1 1080.1L487.3 1082.1L486.5 1084.1L485.8 1086.1L485.1 1088.1L484.5 1090.1L483.9 1092.0L483.3 1094.0L482.9 1096.0L482.5 1098.0L482.2 1100.0L482.0 1102.0L481.9 1104.0L481.9 1106.0L482.0 1108.0L482.2 1110.0L482.4 1112.0L482.8 1114.0L483.2 1116.0L483.7 1118.0L484.3 1120.0L485.0 1122.0L485.7 1124.0L486.4 1126.0L487.1 1128.0L487.9 1130.0L488.7 1132.0L489.5 1134.0" fill="none" stroke="#a2a2a2" stroke-width="0.9"/>
<path d="M520.9 619.5L521.6 621.5L522.3 623.5L523.0 625.5L523.6 627.5L524.2 629.5L524.7 631.5L525.1 633.5L525.4 635.5L525.7 637.4L525.8 639.4L525.9 641.4L525.9 643.4L525.7 645.4L525.5 647.4L525.2 649.4L524.8 651.4L524.4 653.4L523.8 655.4L523.2 657.4L522.5 659.4L521.8 661.4L521.1 663.4L520.3 665.4L519.6 667.4L518.8 669.4L518.0 671.3L517.3 673.3L516.6 675.3L515.9 677.3L515.3 679.3L514.7 681.3L514.2 683.3L513.8 685.3L513.5 687.3L513.3 689.3L513.1 691.3L513.1 693.3L513.1 695.3L513.3 697.3L513.5 699.3L513.8 701.3L514.3 703.3L514.7 705.2L515.3 707.2L515.9 709.2L516.6 711.2L517.3 713.2L518.0 715.2L518.8 717.2L519.6 719.2L520.4 721.2L521.1 723.2L521.9 725.2L522.6 727.2L523.2 729.2L523.8 731.2L524.4 733.2L524.8 735.2L525.2 737.2L525.5 739.2L525.7 741.1L525.9 743.1L525.9 745.1L525.8 747.1L525.7 749.1L525.4 751.1L525.1 753.1L524.7 755.1L524.2 757.1L523.6 759.1L523.0 761.1L522.3 763.1L521.6 765.1L520.8 767.1L520.1 769.1L519.3 771.1L518.5 773.1L517.7 775.0L517.0 777.0L516.3 779.0L515.7 781.0L515.1 783.0L514.5 785.0L514.1 787.0L513.7 789.0L513.4 791.0L513.2 793.0L513.1 795.0L513.1 797.0L513.2 799.0L513.4 801.0L513.6 803.0L514.0 805.0L514.4 807.0L514.9 808.9L515.5 810.9L516.1 812.9L516.8 814.9L517.5 816.9L518.3 818.9L519.1 820.9L519.9 822.9L520.6 824.9L521.4 826.9L522.1 828.9L522.8 830.9L523.4 832.9L524.0 834.9L524.5 836.9L525.0 838.9L525.3 840.9L525.6 842.8L525.8 844.8L525.9 846.8L525.9 848.8L525.8 850.8L525.6 852.8L525.3 854.8L524.9 856.8L524.5 858.8L524.0 860.8L523.4 862.8L522.7 864.8L522.1 866.8L521.3 868.8L520.6 870.8L519.8 872.8L519.0 874.8L518.2 876.8L517.5 878.7L516.8 880.7L516.1 882.7L515.5 884.7L514.9 886.7L514.4 888.7L513.9 890.7L513.6 892.7L513.3 894.7L513.2 896.7L513.1 898.7L513.1 900.7L513.2 902.7L513.4 904.7L513.7 906.7L514.1 908.7L514.6 910.7L515.1 912.6L515.7 914.6L516.4 916.6L517.1 918.6L517.8 920.6L518.6 922.6L519.3 924.6L520.1 926.6L520.9 928.6L521.6 930.6L522.4 932.6L523.0 934.6L523.7 936.6L524.2 938.6L524.7 940.6L525.1 942.6L525.4 944.6L525.7 946.5L525.8 948.5L525.9 950.5L525.9 952.5L525.7 954.5L525.5 956.5L525.2 958.5L524.8 960.5L524.3 962.5L523.8 964.5L523.2 966.5L522.5 968.5L521.8 970.5L521.1 972.5L520.3 974.5L519.5 976.5L518.7 978.5L518.0 980.4L517.2 982.4L516.5 984.4L515.9 986.4L515.2 988.4L514.7 990.4L514.2 992.4L513.8 994.4L513.5 996.4L513.3 998.4L513.1 1000.4L513.1 1002.4L513.2 1004.4L513.3 1006.4L513.5 1008.4L513.9 1010.4L514.3 1012.4L514.8 1014.3L515.3 1016.3L515.9 1018.3L516.6 1020.3L517.3 1022.3L518.1 1024.3L518.8 1026.3L519.6 1028.3L520.4 1030.3L521.2 1032.3L521.9 1034.3L522.6 1036.3L523.3 1038.3L523.9 1040.3L524.4 1042.3L524.9 1044.3L525.2 1046.3L525.5 1048.2L525.8 1050.2L525.9 1052.2L525.9 1054.2L525.8 1056.2L525.7 1058.2L525.4 1060.2L525.1 1062.2L524.6 1064.2L524.1 1066.2L523.6 1068.2L522.9 1070.2L522.3 1072.2L521.5 1074.2L520.8 1076.2L520.0 1078.2L519.2 1080.2L518.5 1082.2L517.7 1084.1L517.0 1086.1L516.3 1088.1L515.6 1090.1L515.0 1092.1L514.5 1094.1L514.1 1096.1L513.7 1098.1L513.4 1100.1L513.2 1102.1L513.1 1104.1L513.1 1106.1L513.2 1108.1L513.4 1110.1L513.6 1112.1L514.0 1114.1L514.4 1116.1L515.0 1118.0L515.5 1120.0L516.2 1122.0L516.9 1124.0L517.6 1126.0L518.3 1128.0L519.1 1130.0L519.9 1132.0L520.7 1134.0" fill="none" stroke="#a2a2a2" stroke-width="0.9"/>
<line x1="730.3" y1="726.4" x2="730.3" y2="1115" stroke="#a828e4" stroke-width="2.5" stroke-dasharray="9.3 7.8"/>
<rect x="549.6" y="636.1" width="238.3" height="88.8" fill="none" stroke="#1a1a1a" stroke-width="1.9"/>
<line x1="558" y1="653.7" x2="595.3" y2="653.7" stroke="#3be83b" stroke-width="2"/>
<line x1="558" y1="680.2" x2="595.3" y2="680.2" stroke="#4444dc" stroke-width="2"/>
<line x1="558" y1="706.8" x2="595.3" y2="706.8" stroke="#e24848" stroke-width="2"/>
<text transform="translate(607.50,660.50) scale(1.0480,1)" font-size="20.3" fill="#111" font-weight="normal" font-family="Liberation Sans, sans-serif">Displacement</text>
<text transform="translate(745.77,660.50) scale(1.0700,1)" font-size="20.3" fill="#111" font-weight="normal" font-family="Liberation Sans, sans-serif">XX</text>
<text transform="translate(607.50,686.60) scale(1.0480,1)" font-size="20.3" fill="#111" font-weight="normal" font-family="Liberation Sans, sans-serif">Displacement</text>
<text transform="translate(745.19,686.60) scale(1.0200,1)" font-size="20.3" fill="#111" font-weight="normal" font-family="Liberation Sans, sans-serif">YY</text>
<text transform="translate(609.20,712.70) scale(1.0480,1)" font-size="20.3" fill="#111" font-weight="normal" font-family="Liberation Sans, sans-serif">Displacement</text>
<text transform="translate(747.27,712.70) scale(1.0300,1)" font-size="20.3" fill="#111" font-weight="normal" font-family="Liberation Sans, sans-serif">ZZ</text>
<circle cx="166.25" cy="798.6" r="7.1" fill="#fff200" stroke="#f5b52a" stroke-width="1.3"/>
<text transform="translate(126.54,784.00) scale(1.0767,1)" font-size="18" fill="#c00000" font-weight="bold" font-family="Liberation Sans, sans-serif" stroke="#c00000" stroke-width="0.35">Mode 1</text>
<circle cx="219.5" cy="706.25" r="7.1" fill="#fff200" stroke="#f5b52a" stroke-width="1.3"/>
<text transform="translate(185.26,691.50) scale(1.0974,1)" font-size="18" fill="#c00000" font-weight="bold" font-family="Liberation Sans, sans-serif" stroke="#c00000" stroke-width="0.35">Mode 2</text>
<circle cx="228.25" cy="766.6" r="7.1" fill="#fff200" stroke="#f5b52a" stroke-width="1.3"/>
<text transform="translate(230.77,751.00) scale(1.0891,1)" font-size="18" fill="#c00000" font-weight="bold" font-family="Liberation Sans, sans-serif" stroke="#c00000" stroke-width="0.35">Mode 3</text>
<circle cx="319.5" cy="700" r="7.1" fill="#fff200" stroke="#f5b52a" stroke-width="1.3"/>
<text transform="translate(286.01,685.25) scale(1.0974,1)" font-size="18" fill="#c00000" font-weight="bold" font-family="Liberation Sans, sans-serif" stroke="#c00000" stroke-width="0.35">Mode 4</text>
<circle cx="388.25" cy="727.5" r="7.1" fill="#fff200" stroke="#f5b52a" stroke-width="1.3"/>
<text transform="translate(358.51,710.25) scale(1.0974,1)" font-size="18" fill="#c00000" font-weight="bold" font-family="Liberation Sans, sans-serif" stroke="#c00000" stroke-width="0.35">Mode 5</text>
<circle cx="430.5" cy="800.75" r="7.1" fill="#fff200" stroke="#f5b52a" stroke-width="1.3"/>
<text transform="translate(398.51,782.25) scale(1.0974,1)" font-size="18" fill="#c00000" font-weight="bold" font-family="Liberation Sans, sans-serif" stroke="#c00000" stroke-width="0.35">Mode 6</text>
<text transform="translate(389.67,1178.30) scale(0.9820,1)" font-size="22.7" fill="#111" font-weight="normal" font-family="Liberation Sans, sans-serif" stroke="#111" stroke-width="0.2">Frequency [Hz]</text>
<text transform="translate(17.00,969.80) rotate(-90) scale(0.9450,1) translate(-1.85,0)" font-size="23.1" fill="#111" font-weight="normal" font-family="Liberation Sans, sans-serif" stroke="#111" stroke-width="0.2">Displacement [mm]</text>
<text transform="translate(435.31,1219.60) scale(1.0060,1)" font-size="28.3" fill="#111" font-weight="normal" font-family="Liberation Serif, serif">(b)</text>
</g>
</svg>
</body></html>
